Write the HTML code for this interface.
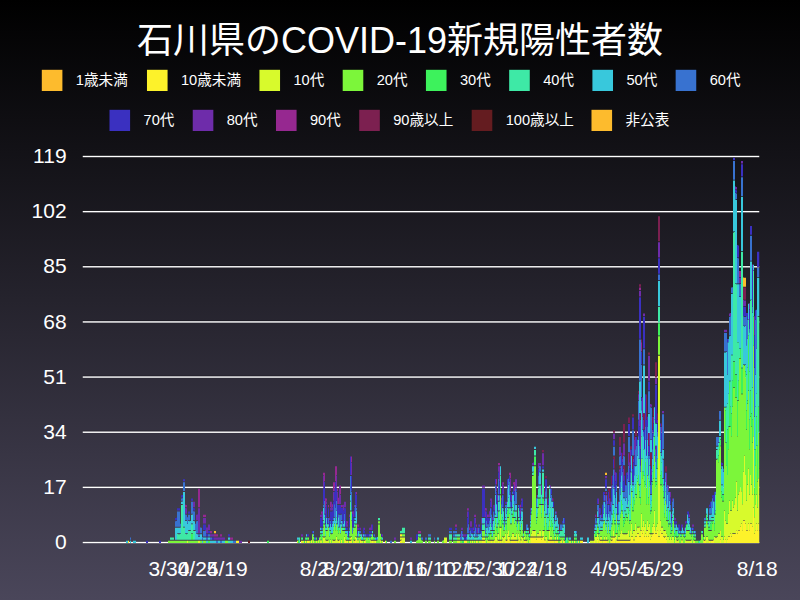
<!DOCTYPE html>
<html lang="ja"><head><meta charset="utf-8"><title>石川県のCOVID-19新規陽性者数</title>
<style>html,body{margin:0;padding:0;background:#4a465a}body{width:800px;height:600px;overflow:hidden;font-family:"Liberation Sans",sans-serif}svg{display:block}.h{font-family:"Liberation Sans","Noto Sans CJK JP",sans-serif;fill:#fff}</style></head><body>
<svg width="800" height="600" viewBox="0 0 800 600">
<defs><linearGradient id="bg" x1="0" y1="0" x2="0" y2="1"><stop offset="0" stop-color="#000"/><stop offset="1" stop-color="#4a465a"/></linearGradient></defs>
<rect width="800" height="600" fill="url(#bg)"/>
<g><text class="h" x="400" y="52.5" font-size="36" text-anchor="middle">石川県のCOVID-19新規陽性者数</text></g>
<rect x="41.80" y="69.8" width="20.6" height="21.2" fill="#fdbb2d"/>
<g><text class="h" x="75.8" y="84.9" font-size="14.62" text-anchor="start">1歳未満</text></g>
<rect x="146.97" y="69.8" width="20.6" height="21.2" fill="#fdf22a"/>
<g><text class="h" x="180.97" y="84.9" font-size="14.62" text-anchor="start">10歳未満</text></g>
<rect x="259.45" y="69.8" width="20.6" height="21.2" fill="#d8fa2c"/>
<g><text class="h" x="293.45" y="84.9" font-size="14.62" text-anchor="start">10代</text></g>
<rect x="342.69" y="69.8" width="20.6" height="21.2" fill="#7cf63a"/>
<g><text class="h" x="376.69" y="84.9" font-size="14.62" text-anchor="start">20代</text></g>
<rect x="425.93" y="69.8" width="20.6" height="21.2" fill="#3df25c"/>
<g><text class="h" x="459.93" y="84.9" font-size="14.62" text-anchor="start">30代</text></g>
<rect x="509.17" y="69.8" width="20.6" height="21.2" fill="#3ee9a6"/>
<g><text class="h" x="543.17" y="84.9" font-size="14.62" text-anchor="start">40代</text></g>
<rect x="592.41" y="69.8" width="20.6" height="21.2" fill="#38c8dc"/>
<g><text class="h" x="626.41" y="84.9" font-size="14.62" text-anchor="start">50代</text></g>
<rect x="675.65" y="69.8" width="20.6" height="21.2" fill="#3872d0"/>
<g><text class="h" x="709.65" y="84.9" font-size="14.62" text-anchor="start">60代</text></g>
<rect x="109.50" y="109.8" width="20.6" height="21.2" fill="#3a30c0"/>
<g><text class="h" x="143.5" y="124.9" font-size="14.62" text-anchor="start">70代</text></g>
<rect x="192.74" y="109.8" width="20.6" height="21.2" fill="#6e2caa"/>
<g><text class="h" x="226.74" y="124.9" font-size="14.62" text-anchor="start">80代</text></g>
<rect x="275.98" y="109.8" width="20.6" height="21.2" fill="#962890"/>
<g><text class="h" x="309.98" y="124.9" font-size="14.62" text-anchor="start">90代</text></g>
<rect x="359.22" y="109.8" width="20.6" height="21.2" fill="#7c2050"/>
<g><text class="h" x="393.22" y="124.9" font-size="14.62" text-anchor="start">90歳以上</text></g>
<rect x="471.70" y="109.8" width="20.6" height="21.2" fill="#641c20"/>
<g><text class="h" x="505.7" y="124.9" font-size="14.62" text-anchor="start">100歳以上</text></g>
<rect x="591.49" y="109.8" width="20.6" height="21.2" fill="#fdbb2d"/>
<g><text class="h" x="625.49" y="124.9" font-size="14.62" text-anchor="start">非公表</text></g>
<rect x="82.75" y="540.90" width="676.5" height="1" fill="#000" fill-opacity=".3"/>
<rect x="82.75" y="541.80" width="676.5" height="1.4" fill="#fff"/>
<g><text class="h" x="66.6" y="549.2" font-size="21" text-anchor="end">0</text></g>
<rect x="82.75" y="485.76" width="676.5" height="1" fill="#000" fill-opacity=".3"/>
<rect x="82.75" y="486.66" width="676.5" height="1.4" fill="#fff"/>
<g><text class="h" x="66.6" y="494.06" font-size="21" text-anchor="end">17</text></g>
<rect x="82.75" y="430.61" width="676.5" height="1" fill="#000" fill-opacity=".3"/>
<rect x="82.75" y="431.51" width="676.5" height="1.4" fill="#fff"/>
<g><text class="h" x="66.6" y="438.91" font-size="21" text-anchor="end">34</text></g>
<rect x="82.75" y="375.47" width="676.5" height="1" fill="#000" fill-opacity=".3"/>
<rect x="82.75" y="376.37" width="676.5" height="1.4" fill="#fff"/>
<g><text class="h" x="66.6" y="383.77" font-size="21" text-anchor="end">51</text></g>
<rect x="82.75" y="320.33" width="676.5" height="1" fill="#000" fill-opacity=".3"/>
<rect x="82.75" y="321.23" width="676.5" height="1.4" fill="#fff"/>
<g><text class="h" x="66.6" y="328.63" font-size="21" text-anchor="end">68</text></g>
<rect x="82.75" y="265.19" width="676.5" height="1" fill="#000" fill-opacity=".3"/>
<rect x="82.75" y="266.09" width="676.5" height="1.4" fill="#fff"/>
<g><text class="h" x="66.6" y="273.49" font-size="21" text-anchor="end">85</text></g>
<rect x="82.75" y="210.04" width="676.5" height="1" fill="#000" fill-opacity=".3"/>
<rect x="82.75" y="210.94" width="676.5" height="1.4" fill="#fff"/>
<g><text class="h" x="66.6" y="218.34" font-size="21" text-anchor="end">102</text></g>
<rect x="82.75" y="154.90" width="676.5" height="1" fill="#000" fill-opacity=".3"/>
<rect x="82.75" y="155.80" width="676.5" height="1.4" fill="#fff"/>
<g><text class="h" x="66.6" y="163.2" font-size="21" text-anchor="end">119</text></g>
<g><text class="h" x="169.03" y="576.3" font-size="21" text-anchor="middle">3/30</text></g>
<g><text class="h" x="198.09" y="576.3" font-size="21" text-anchor="middle">4/24</text></g>
<g><text class="h" x="227.15" y="576.3" font-size="21" text-anchor="middle">5/19</text></g>
<g><text class="h" x="314.32" y="576.3" font-size="21" text-anchor="middle">8/2</text></g>
<g><text class="h" x="343.38" y="576.3" font-size="21" text-anchor="middle">8/27</text></g>
<g><text class="h" x="372.44" y="576.3" font-size="21" text-anchor="middle">9/21</text></g>
<g><text class="h" x="401.49" y="576.3" font-size="21" text-anchor="middle">10/16</text></g>
<g><text class="h" x="430.55" y="576.3" font-size="21" text-anchor="middle">11/10</text></g>
<g><text class="h" x="459.61" y="576.3" font-size="21" text-anchor="middle">12/5</text></g>
<g><text class="h" x="488.67" y="576.3" font-size="21" text-anchor="middle">12/30</text></g>
<g><text class="h" x="517.73" y="576.3" font-size="21" text-anchor="middle">1/24</text></g>
<g><text class="h" x="546.78" y="576.3" font-size="21" text-anchor="middle">2/18</text></g>
<g><text class="h" x="604.9" y="576.3" font-size="21" text-anchor="middle">4/9</text></g>
<g><text class="h" x="633.96" y="576.3" font-size="21" text-anchor="middle">5/4</text></g>
<g><text class="h" x="663.01" y="576.3" font-size="21" text-anchor="middle">5/29</text></g>
<g><text class="h" x="757.16" y="576.3" font-size="21" text-anchor="middle">8/18</text></g>
<defs><clipPath id="cp"><rect x="82" y="150" width="677.25" height="393"/></clipPath></defs><g clip-path="url(#cp)">
<path fill="#fdf22a" d="M128 543.00v-2.24h1v2.24zM236 543.00v-2.24h1v2.24zM237 543.00v-2.24h1v2.24zM238 543.00v-2.24h1v2.24zM301 543.00v-2.24h1v2.24zM305 543.00v-2.24h1v2.24zM307 543.00v-2.24h1v2.24zM308 543.00v-2.24h1v2.24zM311 543.00v-2.64h1v2.64zM339 543.00v-2.64h1v2.64zM341 543.00v-2.99h1v2.99zM345 543.00v-2.64h1v2.64zM347 543.00v-2.24h1v2.24zM349 543.00v-2.24h1v2.24zM350 543.00v-2.24h1v2.24zM351 543.00v-2.64h1v2.64zM355 543.00v-2.64h1v2.64zM360 543.00v-2.64h1v2.64zM364 543.00v-2.24h1v2.24zM372 543.00v-2.24h1v2.24zM375 543.00v-2.24h1v2.24zM385 543.00v-2.24h1v2.24zM400 543.00v-2.24h1v2.24zM400 536.51v-2.24h1v2.24zM401 543.00v-2.64h1v2.64zM401 536.51v-2.24h1v2.24zM464 543.00v-2.24h1v2.24zM465 543.00v-2.24h1v2.24zM466 543.00v-2.24h1v2.24zM472 543.00v-2.24h1v2.24zM476 543.00v-2.24h1v2.24zM482 543.00v-2.24h1v2.24zM483 543.00v-2.24h1v2.24zM484 543.00v-2.24h1v2.24zM491 543.00v-2.24h1v2.24zM494 543.00v-2.64h1v2.64zM498 543.00v-2.24h1v2.24zM500 543.00v-2.24h1v2.24zM502 543.00v-2.64h1v2.64zM505 543.00v-2.64h1v2.64zM506 543.00v-2.24h1v2.24zM507 543.00v-2.64h1v2.64zM508 543.00v-5.89h1v5.89zM509 543.00v-2.64h1v2.64zM511 543.00v-2.24h1v2.24zM512 543.00v-2.24h1v2.24zM513 543.00v-2.24h1v2.24zM514 543.00v-2.24h1v2.24zM515 543.00v-2.24h1v2.24zM516 543.00v-2.24h1v2.24zM518 543.00v-2.64h1v2.64zM521 543.00v-2.64h1v2.64zM524 543.00v-2.24h1v2.24zM525 543.00v-2.24h1v2.24zM531 543.00v-5.49h1v5.49zM532 543.00v-5.49h1v5.49zM533 543.00v-5.49h1v5.49zM534 543.00v-5.49h1v5.49zM535 543.00v-5.49h1v5.49zM536 543.00v-2.99h1v2.99zM537 543.00v-5.49h1v5.49zM538 543.00v-5.49h1v5.49zM539 543.00v-5.49h1v5.49zM540 543.00v-5.49h1v5.49zM541 543.00v-2.99h1v2.99zM542 543.00v-5.49h1v5.49zM543 543.00v-5.89h1v5.89zM544 543.00v-2.64h1v2.64zM545 543.00v-2.64h1v2.64zM548 543.00v-2.24h1v2.24zM549 543.00v-2.24h1v2.24zM550 543.00v-2.24h1v2.24zM551 543.00v-2.24h1v2.24zM552 543.00v-2.24h1v2.24zM553 543.00v-2.24h1v2.24zM555 543.00v-2.24h1v2.24zM556 543.00v-2.24h1v2.24zM557 543.00v-2.24h1v2.24zM561 543.00v-2.64h1v2.64zM563 543.00v-2.64h1v2.64zM574 543.00v-2.24h1v2.24zM578 543.00v-2.24h1v2.24zM580 543.00v-2.24h1v2.24zM581 543.00v-2.24h1v2.24zM582 543.00v-2.24h1v2.24zM594 543.00v-2.64h1v2.64zM597 543.00v-2.99h1v2.99zM599 543.00v-2.64h1v2.64zM600 543.00v-2.24h1v2.24zM601 543.00v-2.24h1v2.24zM603 543.00v-2.24h1v2.24zM604 543.00v-2.24h1v2.24zM605 543.00v-2.24h1v2.24zM606 543.00v-2.24h1v2.24zM611 543.00v-2.24h1v2.24zM612 543.00v-2.64h1v2.64zM613 543.00v-5.49h1v5.49zM614 543.00v-5.49h1v5.49zM616 543.00v-2.64h1v2.64zM617 543.00v-2.24h1v2.24zM618 543.00v-2.24h1v2.24zM619 543.00v-2.24h1v2.24zM620 543.00v-2.24h1v2.24zM621 543.00v-2.24h1v2.24zM622 543.00v-2.24h1v2.24zM623 543.00v-2.24h1v2.24zM624 543.00v-2.24h1v2.24zM625 543.00v-2.24h1v2.24zM626 543.00v-2.24h1v2.24zM627 543.00v-2.24h1v2.24zM628 543.00v-2.24h1v2.24zM629 543.00v-2.24h1v2.24zM630 543.00v-2.64h1v2.64zM631 543.00v-5.89h1v5.89zM632 543.00v-5.89h1v5.89zM633 543.00v-2.64h1v2.64zM634 543.00v-2.64h1v2.64zM635 543.00v-5.89h1v5.89zM636 543.00v-5.89h1v5.89zM637 543.00v-9.13h1v9.13zM638 543.00v-9.33h1v9.33zM639 543.00v-6.09h1v6.09zM640 543.00v-6.09h1v6.09zM641 543.00v-12.57h1v12.57zM642 543.00v-9.53h1v9.53zM643 543.00v-12.77h1v12.77zM644 543.00v-6.29h1v6.29zM645 543.00v-9.53h1v9.53zM646 543.00v-6.29h1v6.29zM647 543.00v-12.37h1v12.37zM648 543.00v-6.29h1v6.29zM649 543.00v-9.33h1v9.33zM650 543.00v-2.99h1v2.99zM651 543.00v-6.24h1v6.24zM652 543.00v-8.73h1v8.73zM653 543.00v-9.13h1v9.13zM654 543.00v-15.97h1v15.97zM655 543.00v-9.33h1v9.33zM656 543.00v-9.33h1v9.33zM657 543.00v-12.72h1v12.72zM658 543.00v-6.09h1v6.09zM659 543.00v-6.09h1v6.09zM660 543.00v-12.72h1v12.72zM661 543.00v-9.13h1v9.13zM662 543.00v-9.13h1v9.13zM663 543.00v-5.89h1v5.89zM664 543.00v-5.49h1v5.49zM665 543.00v-5.89h1v5.89zM666 543.00v-2.99h1v2.99zM704 543.00v-2.24h1v2.24zM705 543.00v-2.64h1v2.64zM709 543.00v-2.24h1v2.24zM711 543.00v-2.24h1v2.24zM712 543.00v-2.24h1v2.24zM713 543.00v-2.64h1v2.64zM720 543.00v-2.99h1v2.99zM724 543.00v-6.29h1v6.29zM725 543.00v-3.04h1v3.04zM727 543.00v-3.04h1v3.04zM728 543.00v-6.09h1v6.09zM729 543.00v-6.09h1v6.09zM730 543.00v-9.53h1v9.53zM731 543.00v-6.29h1v6.29zM732 543.00v-9.33h1v9.33zM733 543.00v-8.93h1v8.93zM734 543.00v-8.93h1v8.93zM735 543.00v-9.33h1v9.33zM736 543.00v-12.77h1v12.77zM737 543.00v-9.53h1v9.53zM738 543.00v-12.57h1v12.57zM739 543.00v-12.57h1v12.57zM740 543.00v-16.02h1v16.02zM741 543.00v-19.26h1v19.26zM742 543.00v-12.77h1v12.77zM743 543.00v-22.31h1v22.31zM744 543.00v-22.31h1v22.31zM745 543.00v-19.26h1v19.26zM746 543.00v-12.57h1v12.57zM747 543.00v-12.57h1v12.57zM748 543.00v-19.26h1v19.26zM749 543.00v-12.77h1v12.77zM750 543.00v-19.06h1v19.06zM751 543.00v-19.06h1v19.06zM752 543.00v-16.02h1v16.02zM753 543.00v-35.48h1v35.48zM754 543.00v-9.53h1v9.53zM755 543.00v-12.77h1v12.77zM756 543.00v-19.26h1v19.26zM757 543.00v-12.77h1v12.77zM758 543.00v-19.26h1v19.26zM759 543.00v-12.57h1v12.57z"/>
<path fill="#d8fa2c" d="M187 543.00v-2.24h1v2.24zM198 543.00v-2.24h1v2.24zM199 543.00v-2.24h1v2.24zM297 543.00v-2.24h1v2.24zM302 543.00v-2.24h1v2.24zM303 543.00v-2.24h1v2.24zM309 543.00v-2.24h1v2.24zM313 543.00v-2.64h1v2.64zM316 543.00v-2.24h1v2.24zM318 543.00v-2.64h1v2.64zM320 543.00v-2.64h1v2.64zM321 543.00v-2.64h1v2.64zM323 543.00v-5.49h1v5.49zM324 543.00v-5.49h1v5.49zM325 543.00v-2.64h1v2.64zM326 543.00v-2.24h1v2.24zM327 543.00v-2.24h1v2.24zM328 543.00v-2.64h1v2.64zM330 543.00v-2.99h1v2.99zM332 543.00v-2.64h1v2.64zM333 543.00v-2.24h1v2.24zM334 543.00v-2.24h1v2.24zM335 543.00v-2.64h1v2.64zM336 543.00v-6.24h1v6.24zM337 543.00v-2.64h1v2.64zM338 543.00v-2.24h1v2.24zM344 543.00v-6.24h1v6.24zM346 543.00v-2.24h1v2.24zM350 539.76v-2.24h1v2.24zM351 539.76v-2.64h1v2.64zM353 543.00v-2.64h1v2.64zM354 543.00v-2.24h1v2.24zM355 539.76v-2.64h1v2.64zM356 543.00v-5.49h1v5.49zM357 543.00v-2.64h1v2.64zM358 543.00v-2.64h1v2.64zM361 543.00v-2.24h1v2.24zM362 543.00v-2.24h1v2.24zM365 543.00v-2.64h1v2.64zM370 543.00v-2.64h1v2.64zM371 543.00v-2.24h1v2.24zM373 543.00v-2.24h1v2.24zM374 543.00v-2.24h1v2.24zM380 543.00v-2.64h1v2.64zM382 543.00v-2.24h1v2.24zM400 539.76v-2.24h1v2.24zM401 539.76v-2.24h1v2.24zM402 543.00v-5.49h1v5.49zM403 543.00v-5.49h1v5.49zM404 543.00v-5.49h1v5.49zM444 543.00v-5.49h1v5.49zM445 543.00v-5.49h1v5.49zM446 543.00v-5.49h1v5.49zM457 543.00v-2.24h1v2.24zM458 543.00v-2.24h1v2.24zM459 543.00v-2.24h1v2.24zM470 543.00v-2.24h1v2.24zM474 543.00v-2.24h1v2.24zM477 543.00v-2.24h1v2.24zM479 543.00v-2.24h1v2.24zM480 543.00v-2.24h1v2.24zM481 543.00v-2.24h1v2.24zM482 539.76v-2.24h1v2.24zM483 539.76v-2.24h1v2.24zM484 539.76v-2.24h1v2.24zM485 543.00v-2.64h1v2.64zM487 543.00v-2.64h1v2.64zM488 543.00v-2.24h1v2.24zM489 543.00v-2.24h1v2.24zM490 543.00v-2.24h1v2.24zM492 543.00v-2.24h1v2.24zM493 543.00v-2.24h1v2.24zM495 543.00v-5.89h1v5.89zM496 543.00v-5.89h1v5.89zM497 543.00v-2.64h1v2.64zM498 539.76v-5.89h1v5.89zM499 543.00v-2.24h1v2.24zM500 539.76v-11.97h1v11.97zM501 543.00v-2.24h1v2.24zM502 539.76v-2.64h1v2.64zM503 543.00v-5.49h1v5.49zM504 543.00v-5.89h1v5.89zM505 539.76v-6.24h1v6.24zM507 539.76v-6.24h1v6.24zM508 536.51v-6.24h1v6.24zM509 539.76v-2.64h1v2.64zM510 543.00v-2.24h1v2.24zM511 539.76v-2.99h1v2.99zM512 539.76v-5.89h1v5.89zM513 539.76v-5.89h1v5.89zM514 539.76v-2.64h1v2.64zM515 539.76v-2.64h1v2.64zM516 539.76v-6.24h1v6.24zM517 543.00v-2.24h1v2.24zM518 539.76v-6.24h1v6.24zM519 543.00v-6.24h1v6.24zM520 543.00v-2.64h1v2.64zM521 539.76v-2.64h1v2.64zM522 543.00v-5.49h1v5.49zM523 543.00v-2.64h1v2.64zM524 539.76v-2.64h1v2.64zM526 543.00v-2.24h1v2.24zM527 543.00v-2.64h1v2.64zM529 543.00v-2.99h1v2.99zM530 543.00v-5.49h1v5.49zM531 536.51v-2.99h1v2.99zM532 536.51v-5.89h1v5.89zM533 536.51v-5.49h1v5.49zM534 536.51v-5.49h1v5.49zM535 536.51v-5.89h1v5.89zM536 539.76v-2.24h1v2.24zM537 536.51v-2.64h1v2.64zM538 536.51v-2.64h1v2.64zM539 536.51v-5.89h1v5.89zM540 536.51v-5.89h1v5.89zM541 539.76v-2.24h1v2.24zM542 536.51v-5.89h1v5.89zM543 536.51v-5.49h1v5.49zM545 539.76v-2.64h1v2.64zM546 543.00v-5.89h1v5.89zM547 543.00v-2.64h1v2.64zM549 539.76v-9.13h1v9.13zM550 539.76v-2.64h1v2.64zM551 539.76v-2.64h1v2.64zM554 543.00v-2.24h1v2.24zM555 539.76v-2.64h1v2.64zM557 539.76v-2.99h1v2.99zM560 543.00v-2.24h1v2.24zM564 543.00v-2.24h1v2.24zM569 543.00v-2.24h1v2.24zM570 543.00v-2.24h1v2.24zM572 543.00v-2.24h1v2.24zM590 543.00v-2.24h1v2.24zM591 543.00v-2.24h1v2.24zM592 543.00v-2.24h1v2.24zM593 543.00v-2.24h1v2.24zM595 543.00v-5.89h1v5.89zM596 543.00v-5.89h1v5.89zM597 539.76v-5.89h1v5.89zM598 543.00v-6.24h1v6.24zM600 539.76v-2.64h1v2.64zM601 539.76v-2.64h1v2.64zM602 543.00v-2.24h1v2.24zM604 539.76v-2.99h1v2.99zM606 539.76v-2.99h1v2.99zM607 543.00v-2.24h1v2.24zM608 543.00v-2.64h1v2.64zM610 543.00v-2.64h1v2.64zM611 539.76v-2.24h1v2.24zM612 539.76v-2.24h1v2.24zM613 536.51v-6.24h1v6.24zM615 543.00v-5.89h1v5.89zM616 539.76v-5.49h1v5.49zM618 539.76v-2.64h1v2.64zM619 539.76v-2.64h1v2.64zM620 539.76v-6.24h1v6.24zM621 539.76v-9.48h1v9.48zM622 539.76v-5.89h1v5.89zM623 539.76v-5.49h1v5.49zM624 539.76v-5.49h1v5.49zM625 539.76v-5.49h1v5.49zM626 539.76v-5.49h1v5.49zM627 539.76v-5.89h1v5.89zM628 539.76v-9.48h1v9.48zM629 539.76v-2.99h1v2.99zM630 539.76v-9.48h1v9.48zM631 536.51v-12.72h1v12.72zM632 536.51v-2.99h1v2.99zM633 539.76v-9.13h1v9.13zM634 539.76v-9.13h1v9.13zM635 536.51v-12.72h1v12.72zM636 536.51v-6.24h1v6.24zM637 533.27v-5.89h1v5.89zM638 533.27v-5.69h1v5.69zM639 536.51v-9.33h1v9.33zM640 536.51v-6.09h1v6.09zM641 530.03v-16.02h1v16.02zM642 533.27v-6.29h1v6.29zM643 530.03v-9.53h1v9.53zM644 536.51v-9.53h1v9.53zM645 533.27v-9.53h1v9.53zM646 536.51v-6.09h1v6.09zM647 530.03v-9.48h1v9.48zM648 536.51v-9.53h1v9.53zM649 533.27v-9.53h1v9.53zM650 539.76v-5.49h1v5.49zM651 536.51v-2.24h1v2.24zM652 533.27v-6.24h1v6.24zM653 533.27v-9.48h1v9.48zM654 526.78v-15.97h1v15.97zM655 533.27v-3.04h1v3.04zM656 533.27v-6.29h1v6.29zM657 530.03v-6.24h1v6.24zM658 536.51v-180.85h1v180.85zM659 536.51v-180.85h1v180.85zM660 530.03v-9.48h1v9.48zM661 533.27v-5.89h1v5.89zM662 533.27v-5.89h1v5.89zM663 536.51v-5.89h1v5.89zM664 536.51v-5.49h1v5.49zM665 536.51v-5.89h1v5.89zM666 539.76v-6.24h1v6.24zM667 543.00v-5.89h1v5.89zM668 543.00v-5.89h1v5.89zM669 543.00v-2.99h1v2.99zM670 543.00v-6.24h1v6.24zM671 543.00v-2.99h1v2.99zM672 543.00v-5.89h1v5.89zM673 543.00v-5.89h1v5.89zM675 543.00v-5.89h1v5.89zM676 543.00v-2.64h1v2.64zM677 543.00v-2.24h1v2.24zM678 543.00v-2.64h1v2.64zM681 543.00v-2.64h1v2.64zM682 543.00v-2.64h1v2.64zM685 543.00v-2.64h1v2.64zM686 543.00v-2.24h1v2.24zM687 543.00v-2.24h1v2.24zM688 543.00v-2.24h1v2.24zM689 543.00v-2.24h1v2.24zM690 543.00v-2.24h1v2.24zM691 543.00v-2.64h1v2.64zM693 543.00v-2.64h1v2.64zM694 543.00v-2.24h1v2.24zM703 543.00v-2.64h1v2.64zM704 539.76v-2.64h1v2.64zM706 543.00v-5.89h1v5.89zM707 543.00v-5.89h1v5.89zM708 543.00v-2.64h1v2.64zM710 543.00v-2.24h1v2.24zM714 543.00v-5.89h1v5.89zM715 543.00v-5.49h1v5.49zM716 543.00v-5.49h1v5.49zM717 543.00v-5.89h1v5.89zM718 543.00v-9.13h1v9.13zM719 543.00v-9.13h1v9.13zM720 539.76v-9.48h1v9.48zM721 543.00v-5.89h1v5.89zM722 543.00v-5.89h1v5.89zM723 543.00v-2.99h1v2.99zM724 536.51v-25.75h1v25.75zM725 539.76v-19.26h1v19.26zM726 543.00v-19.06h1v19.06zM727 539.76v-15.82h1v15.82zM728 536.51v-22.51h1v22.51zM729 536.51v-35.48h1v35.48zM730 533.27v-22.31h1v22.31zM731 536.51v-25.55h1v25.55zM732 533.27v-32.24h1v32.24zM733 533.27v-25.75h1v25.75zM734 533.27v-28.99h1v28.99zM735 533.27v-35.48h1v35.48zM736 530.03v-48.46h1v48.46zM737 533.27v-22.51h1v22.51zM738 530.03v-35.48h1v35.48zM739 530.03v-38.72h1v38.72zM740 526.78v-38.72h1v38.72zM741 523.54v-32.24h1v32.24zM742 530.03v-25.75h1v25.75zM743 520.29v-48.46h1v48.46zM744 520.29v-64.67h1v64.67zM745 523.54v-48.46h1v48.46zM746 530.03v-28.99h1v28.99zM747 530.03v-45.21h1v45.21zM748 523.54v-54.94h1v54.94zM749 530.03v-35.48h1v35.48zM750 523.54v-48.46h1v48.46zM751 523.54v-38.72h1v38.72zM752 526.78v-32.24h1v32.24zM753 507.32v-71.16h1v71.16zM754 533.27v-16.02h1v16.02zM755 530.03v-25.75h1v25.75zM756 523.54v-28.99h1v28.99zM757 530.03v-22.51h1v22.51zM758 523.54v-45.21h1v45.21zM759 530.03v-35.28h1v35.28z"/>
<path fill="#7cf63a" d="M168 543.00v-2.24h1v2.24zM169 543.00v-2.24h1v2.24zM170 543.00v-2.24h1v2.24zM171 543.00v-2.24h1v2.24zM172 543.00v-2.24h1v2.24zM173 543.00v-2.24h1v2.24zM174 543.00v-2.24h1v2.24zM175 543.00v-2.24h1v2.24zM176 543.00v-2.24h1v2.24zM177 543.00v-2.24h1v2.24zM178 543.00v-2.24h1v2.24zM179 543.00v-2.24h1v2.24zM180 543.00v-2.24h1v2.24zM181 543.00v-2.24h1v2.24zM182 543.00v-2.24h1v2.24zM183 543.00v-2.24h1v2.24zM184 543.00v-2.24h1v2.24zM185 543.00v-2.24h1v2.24zM186 543.00v-2.24h1v2.24zM188 543.00v-2.24h1v2.24zM189 543.00v-2.24h1v2.24zM190 543.00v-2.24h1v2.24zM191 543.00v-2.24h1v2.24zM192 543.00v-2.24h1v2.24zM193 543.00v-2.24h1v2.24zM194 543.00v-2.24h1v2.24zM195 543.00v-2.24h1v2.24zM196 543.00v-2.24h1v2.24zM197 543.00v-2.24h1v2.24zM200 543.00v-2.24h1v2.24zM201 543.00v-2.24h1v2.24zM203 543.00v-2.24h1v2.24zM204 543.00v-2.24h1v2.24zM205 543.00v-2.24h1v2.24zM225 543.00v-2.24h1v2.24zM226 543.00v-2.24h1v2.24zM227 543.00v-2.24h1v2.24zM306 543.00v-2.24h1v2.24zM308 539.76v-2.24h1v2.24zM310 543.00v-2.24h1v2.24zM312 543.00v-8.73h1v8.73zM313 539.76v-2.64h1v2.64zM314 543.00v-2.24h1v2.24zM315 543.00v-2.24h1v2.24zM317 543.00v-2.24h1v2.24zM319 543.00v-5.49h1v5.49zM320 539.76v-2.64h1v2.64zM322 543.00v-5.89h1v5.89zM323 536.51v-9.13h1v9.13zM324 536.51v-11.97h1v11.97zM325 539.76v-2.64h1v2.64zM326 539.76v-8.73h1v8.73zM327 539.76v-9.13h1v9.13zM328 539.76v-12.37h1v12.37zM329 543.00v-6.24h1v6.24zM330 539.76v-5.89h1v5.89zM331 543.00v-8.73h1v8.73zM332 539.76v-5.89h1v5.89zM333 539.76v-9.48h1v9.48zM334 539.76v-15.97h1v15.97zM335 539.76v-9.48h1v9.48zM336 536.51v-12.37h1v12.37zM337 539.76v-9.48h1v9.48zM338 539.76v-6.24h1v6.24zM339 539.76v-9.48h1v9.48zM340 543.00v-9.48h1v9.48zM341 539.76v-12.37h1v12.37zM342 543.00v-12.37h1v12.37zM343 543.00v-11.97h1v11.97zM344 536.51v-5.49h1v5.49zM345 539.76v-5.89h1v5.89zM346 539.76v-5.89h1v5.89zM348 543.00v-2.24h1v2.24zM349 539.76v-2.24h1v2.24zM350 536.51v-24.95h1v24.95zM351 536.51v-15.97h1v15.97zM352 543.00v-9.48h1v9.48zM353 539.76v-9.48h1v9.48zM354 539.76v-11.97h1v11.97zM355 536.51v-9.13h1v9.13zM356 536.51v-11.97h1v11.97zM358 539.76v-2.24h1v2.24zM359 543.00v-5.49h1v5.49zM360 539.76v-2.64h1v2.64zM363 543.00v-2.24h1v2.24zM364 539.76v-2.24h1v2.24zM366 543.00v-5.49h1v5.49zM367 543.00v-5.49h1v5.49zM368 543.00v-2.99h1v2.99zM369 543.00v-5.49h1v5.49zM371 539.76v-2.64h1v2.64zM372 539.76v-5.49h1v5.49zM376 543.00v-2.24h1v2.24zM377 543.00v-2.64h1v2.64zM378 543.00v-18.46h1v18.46zM378 523.54v-2.24h1v2.24zM379 543.00v-18.46h1v18.46zM379 523.54v-2.24h1v2.24zM380 539.76v-5.89h1v5.89zM381 543.00v-2.24h1v2.24zM394 543.00v-2.24h1v2.24zM395 543.00v-2.24h1v2.24zM402 536.51v-2.24h1v2.24zM403 536.51v-2.24h1v2.24zM404 536.51v-2.24h1v2.24zM416 543.00v-2.24h1v2.24zM417 543.00v-2.64h1v2.64zM418 543.00v-5.89h1v5.89zM419 543.00v-5.49h1v5.49zM420 543.00v-5.49h1v5.49zM421 543.00v-2.64h1v2.64zM422 543.00v-2.24h1v2.24zM425 543.00v-2.24h1v2.24zM426 543.00v-2.24h1v2.24zM428 543.00v-2.24h1v2.24zM429 543.00v-2.24h1v2.24zM430 543.00v-2.24h1v2.24zM434 543.00v-2.24h1v2.24zM437 543.00v-2.24h1v2.24zM438 543.00v-2.24h1v2.24zM442 543.00v-2.24h1v2.24zM443 543.00v-2.64h1v2.64zM449 543.00v-2.24h1v2.24zM450 543.00v-2.24h1v2.24zM451 543.00v-2.24h1v2.24zM453 543.00v-2.24h1v2.24zM454 543.00v-2.24h1v2.24zM455 543.00v-2.24h1v2.24zM456 543.00v-2.24h1v2.24zM457 539.76v-2.24h1v2.24zM458 539.76v-2.24h1v2.24zM459 539.76v-2.24h1v2.24zM460 543.00v-2.24h1v2.24zM461 543.00v-2.24h1v2.24zM467 543.00v-2.24h1v2.24zM468 543.00v-2.24h1v2.24zM471 543.00v-2.24h1v2.24zM473 543.00v-2.24h1v2.24zM475 543.00v-2.24h1v2.24zM478 543.00v-2.24h1v2.24zM482 536.51v-5.49h1v5.49zM483 536.51v-5.49h1v5.49zM484 536.51v-5.89h1v5.89zM486 543.00v-5.49h1v5.49zM488 539.76v-2.64h1v2.64zM490 539.76v-5.49h1v5.49zM491 539.76v-2.64h1v2.64zM492 539.76v-2.64h1v2.64zM493 539.76v-5.89h1v5.89zM494 539.76v-5.89h1v5.89zM495 536.51v-12.72h1v12.72zM496 536.51v-6.24h1v6.24zM497 539.76v-5.89h1v5.89zM498 533.27v-9.13h1v9.13zM499 539.76v-12.37h1v12.37zM500 526.78v-31.44h1v31.44zM501 539.76v-12.37h1v12.37zM502 536.51v-12.37h1v12.37zM503 536.51v-5.89h1v5.89zM504 536.51v-5.89h1v5.89zM505 533.27v-9.13h1v9.13zM506 539.76v-9.48h1v9.48zM507 533.27v-15.62h1v15.62zM508 530.03v-12.37h1v12.37zM509 536.51v-22.46h1v22.46zM510 539.76v-15.62h1v15.62zM511 536.51v-12.37h1v12.37zM512 533.27v-15.62h1v15.62zM513 533.27v-15.22h1v15.22zM514 536.51v-12.72h1v12.72zM515 536.51v-15.62h1v15.62zM516 533.27v-6.24h1v6.24zM517 539.76v-9.48h1v9.48zM518 533.27v-11.97h1v11.97zM519 536.51v-5.89h1v5.89zM520 539.76v-6.24h1v6.24zM521 536.51v-12.72h1v12.72zM522 536.51v-5.89h1v5.89zM523 539.76v-2.24h1v2.24zM524 536.51v-5.49h1v5.49zM525 539.76v-5.89h1v5.89zM526 539.76v-2.99h1v2.99zM527 539.76v-5.49h1v5.49zM528 543.00v-5.89h1v5.89zM530 536.51v-9.13h1v9.13zM531 533.27v-18.86h1v18.86zM532 530.03v-54.14h1v54.14zM533 530.03v-54.54h1v54.54zM534 530.03v-63.87h1v63.87zM535 530.03v-63.87h1v63.87zM536 536.51v-12.72h1v12.72zM537 533.27v-15.62h1v15.62zM538 533.27v-25.35h1v25.35zM539 530.03v-25.35h1v25.35zM540 530.03v-24.95h1v24.95zM541 536.51v-19.21h1v19.21zM542 530.03v-24.95h1v24.95zM543 530.03v-25.35h1v25.35zM544 539.76v-9.13h1v9.13zM545 536.51v-18.86h1v18.86zM546 536.51v-5.89h1v5.89zM547 539.76v-8.73h1v8.73zM548 539.76v-8.73h1v8.73zM549 530.03v-9.48h1v9.48zM550 536.51v-9.48h1v9.48zM551 536.51v-6.24h1v6.24zM552 539.76v-12.72h1v12.72zM553 539.76v-6.24h1v6.24zM554 539.76v-2.64h1v2.64zM555 536.51v-2.64h1v2.64zM557 536.51v-2.24h1v2.24zM558 543.00v-2.24h1v2.24zM559 543.00v-2.24h1v2.24zM560 539.76v-2.24h1v2.24zM561 539.76v-2.24h1v2.24zM562 543.00v-5.49h1v5.49zM563 539.76v-2.24h1v2.24zM568 543.00v-2.64h1v2.64zM574 539.76v-2.24h1v2.24zM575 543.00v-2.24h1v2.24zM576 543.00v-2.24h1v2.24zM594 539.76v-5.89h1v5.89zM597 533.27v-5.89h1v5.89zM598 536.51v-2.24h1v2.24zM599 539.76v-5.89h1v5.89zM600 536.51v-5.49h1v5.49zM601 536.51v-5.49h1v5.49zM602 539.76v-9.13h1v9.13zM603 539.76v-15.97h1v15.97zM604 536.51v-15.62h1v15.62zM605 539.76v-9.48h1v9.48zM606 536.51v-9.48h1v9.48zM607 539.76v-6.24h1v6.24zM608 539.76v-12.72h1v12.72zM609 543.00v-9.48h1v9.48zM610 539.76v-2.64h1v2.64zM611 536.51v-9.48h1v9.48zM612 536.51v-12.37h1v12.37zM613 530.03v-12.72h1v12.72zM614 536.51v-12.37h1v12.37zM615 536.51v-2.64h1v2.64zM616 533.27v-18.86h1v18.86zM617 539.76v-5.89h1v5.89zM618 536.51v-9.48h1v9.48zM619 536.51v-6.24h1v6.24zM620 533.27v-15.97h1v15.97zM621 530.03v-18.86h1v18.86zM622 533.27v-19.21h1v19.21zM623 533.27v-6.24h1v6.24zM624 533.27v-9.48h1v9.48zM625 533.27v-12.72h1v12.72zM626 533.27v-15.62h1v15.62zM627 533.27v-12.72h1v12.72zM628 530.03v-15.97h1v15.97zM629 536.51v-12.72h1v12.72zM630 530.03v-9.13h1v9.13zM631 523.54v-31.84h1v31.84zM632 533.27v-22.11h1v22.11zM633 530.03v-18.86h1v18.86zM634 530.03v-25.70h1v25.70zM635 523.54v-28.59h1v28.59zM636 530.03v-32.19h1v32.19zM637 526.78v-45.16h1v45.16zM638 526.78v-41.77h1v41.77zM639 526.78v-28.79h1v28.79zM640 530.03v-25.75h1v25.75zM641 513.81v-54.74h1v54.74zM642 526.78v-48.46h1v48.46zM643 520.29v-45.01h1v45.01zM644 526.78v-38.72h1v38.72zM645 523.54v-38.72h1v38.72zM646 530.03v-25.75h1v25.75zM647 520.29v-44.81h1v44.81zM648 526.78v-22.51h1v22.51zM649 523.54v-35.48h1v35.48zM650 533.27v-19.21h1v19.21zM651 533.27v-22.11h1v22.11zM652 526.78v-41.92h1v41.92zM653 523.54v-45.16h1v45.16zM654 510.56v-54.89h1v54.89zM655 530.03v-41.97h1v41.97zM656 526.78v-41.97h1v41.97zM657 523.54v-54.54h1v54.54zM658 354.87v-18.66h1v18.66zM659 354.87v-18.66h1v18.66zM660 520.29v-35.08h1v35.08zM661 526.78v-41.57h1v41.57zM662 526.78v-38.67h1v38.67zM663 530.03v-31.84h1v31.84zM664 530.03v-12.72h1v12.72zM665 530.03v-28.94h1v28.94zM666 533.27v-12.37h1v12.37zM667 536.51v-15.22h1v15.22zM668 536.51v-9.48h1v9.48zM669 539.76v-15.22h1v15.22zM670 536.51v-2.64h1v2.64zM671 539.76v-5.89h1v5.89zM672 536.51v-5.89h1v5.89zM673 536.51v-15.62h1v15.62zM674 543.00v-2.99h1v2.99zM676 539.76v-2.24h1v2.24zM677 539.76v-2.24h1v2.24zM678 539.76v-2.64h1v2.64zM679 543.00v-8.73h1v8.73zM680 543.00v-5.89h1v5.89zM681 539.76v-2.64h1v2.64zM682 539.76v-5.49h1v5.49zM683 543.00v-5.89h1v5.89zM684 543.00v-5.49h1v5.49zM685 539.76v-2.64h1v2.64zM686 539.76v-9.13h1v9.13zM687 539.76v-8.73h1v8.73zM688 539.76v-8.73h1v8.73zM689 539.76v-5.89h1v5.89zM690 539.76v-5.49h1v5.49zM691 539.76v-2.99h1v2.99zM692 543.00v-8.73h1v8.73zM694 539.76v-2.24h1v2.24zM695 543.00v-2.24h1v2.24zM696 543.00v-2.24h1v2.24zM697 543.00v-2.24h1v2.24zM700 543.00v-2.64h1v2.64zM701 543.00v-8.73h1v8.73zM702 543.00v-8.73h1v8.73zM704 536.51v-8.73h1v8.73zM705 539.76v-12.37h1v12.37zM706 536.51v-15.22h1v15.22zM707 536.51v-12.37h1v12.37zM708 539.76v-9.13h1v9.13zM709 539.76v-8.73h1v8.73zM710 539.76v-8.73h1v8.73zM711 539.76v-9.13h1v9.13zM712 539.76v-15.97h1v15.97zM713 539.76v-18.86h1v18.86zM714 536.51v-6.24h1v6.24zM715 536.51v-22.11h1v22.11zM716 536.51v-76.85h1v76.85zM717 536.51v-77.25h1v77.25zM718 533.27v-71.11h1v71.11zM719 533.27v-84.09h1v84.09zM720 530.03v-83.74h1v83.74zM721 536.51v-38.67h1v38.67zM722 536.51v-35.08h1v35.08zM723 539.76v-38.32h1v38.32zM724 510.56v-103.00h1v103.00zM725 520.29v-77.45h1v77.45zM726 523.54v-58.19h1v58.19zM727 523.54v-48.46h1v48.46zM728 513.81v-64.67h1v64.67zM729 500.83v-73.81h1v73.81zM730 510.56v-83.94h1v83.94zM731 510.56v-74.41h1v74.41zM732 500.83v-93.87h1v93.87zM733 507.32v-119.62h1v119.62zM734 504.08v-116.37h1v116.37zM735 497.59v-100.15h1v100.15zM736 481.37v-83.94h1v83.94zM737 510.56v-74.41h1v74.41zM738 494.34v-93.67h1v93.67zM739 491.10v-132.59h1v132.59zM740 487.86v-129.35h1v129.35zM741 491.10v-96.91h1v96.91zM742 504.08v-109.89h1v109.89zM743 471.64v-106.64h1v106.64zM744 455.42v-90.02h1v90.02zM745 474.88v-97.11h1v97.11zM746 500.83v-71.16h1v71.16zM747 484.61v-80.89h1v80.89zM748 468.39v-77.65h1v77.65zM749 494.34v-45.21h1v45.21zM750 474.88v-58.19h1v58.19zM751 484.61v-58.19h1v58.19zM752 494.34v-51.70h1v51.70zM753 435.96v-90.62h1v90.62zM754 517.05v-22.51h1v22.51zM755 504.08v-38.72h1v38.72zM756 494.34v-48.26h1v48.26zM757 507.32v-25.75h1v25.75zM758 478.13v-45.01h1v45.01zM759 494.34v-25.55h1v25.55z"/>
<path fill="#3df25c" d="M191 539.76v-5.89h1v5.89zM192 539.76v-5.89h1v5.89zM208 543.00v-2.24h1v2.24zM209 543.00v-2.24h1v2.24zM267 543.00v-2.24h1v2.24zM268 543.00v-2.24h1v2.24zM298 543.00v-2.64h1v2.64zM301 539.76v-2.24h1v2.24zM304 543.00v-2.24h1v2.24zM305 539.76v-2.24h1v2.24zM307 539.76v-2.24h1v2.24zM316 539.76v-2.24h1v2.24zM320 536.51v-2.24h1v2.24zM321 539.76v-5.49h1v5.49zM323 526.78v-2.64h1v2.64zM330 533.27v-2.64h1v2.64zM335 530.03v-2.99h1v2.99zM338 533.27v-5.89h1v5.89zM344 530.03v-2.24h1v2.24zM349 536.51v-2.99h1v2.99zM355 526.78v-2.24h1v2.24zM359 536.51v-2.64h1v2.64zM363 539.76v-2.24h1v2.24zM370 539.76v-2.24h1v2.24zM373 539.76v-2.64h1v2.64zM374 539.76v-2.24h1v2.24zM381 539.76v-2.64h1v2.64zM386 543.00v-2.24h1v2.24zM462 543.00v-2.24h1v2.24zM463 543.00v-2.24h1v2.24zM469 543.00v-2.24h1v2.24zM485 539.76v-2.24h1v2.24zM486 536.51v-2.64h1v2.64zM487 539.76v-2.24h1v2.24zM488 536.51v-2.64h1v2.64zM489 539.76v-5.49h1v5.49zM490 533.27v-2.64h1v2.64zM491 536.51v-2.64h1v2.64zM493 533.27v-2.24h1v2.24zM494 533.27v-2.64h1v2.64zM495 523.54v-5.49h1v5.49zM496 530.03v-2.64h1v2.64zM497 533.27v-5.89h1v5.89zM498 523.54v-11.97h1v11.97zM499 526.78v-6.24h1v6.24zM500 494.34v-5.89h1v5.89zM501 526.78v-6.24h1v6.24zM502 523.54v-6.24h1v6.24zM503 530.03v-5.89h1v5.89zM505 523.54v-2.24h1v2.24zM506 530.03v-5.89h1v5.89zM507 517.05v-6.24h1v6.24zM508 517.05v-8.73h1v8.73zM512 517.05v-2.64h1v2.64zM513 517.05v-5.89h1v5.89zM515 520.29v-2.64h1v2.64zM516 526.78v-5.49h1v5.49zM518 520.29v-2.24h1v2.24zM519 530.03v-6.24h1v6.24zM520 533.27v-2.64h1v2.64zM525 533.27v-2.24h1v2.24zM526 536.51v-2.24h1v2.24zM527 533.27v-2.24h1v2.24zM528 536.51v-2.24h1v2.24zM529 539.76v-2.24h1v2.24zM531 513.81v-2.64h1v2.64zM534 465.15v-8.73h1v8.73zM535 465.15v-8.73h1v8.73zM536 523.54v-2.99h1v2.99zM537 517.05v-2.99h1v2.99zM538 507.32v-8.73h1v8.73zM539 504.08v-5.49h1v5.49zM540 504.08v-5.89h1v5.89zM541 517.05v-2.99h1v2.99zM542 504.08v-5.89h1v5.89zM543 504.08v-5.49h1v5.49zM544 530.03v-2.99h1v2.99zM545 517.05v-2.64h1v2.64zM546 530.03v-6.24h1v6.24zM548 530.03v-2.99h1v2.99zM549 520.29v-6.24h1v6.24zM551 530.03v-9.48h1v9.48zM552 526.78v-2.99h1v2.99zM553 533.27v-2.64h1v2.64zM555 533.27v-5.89h1v5.89zM556 539.76v-5.49h1v5.49zM557 533.27v-2.64h1v2.64zM558 539.76v-5.49h1v5.49zM559 539.76v-2.64h1v2.64zM564 539.76v-2.24h1v2.24zM565 543.00v-2.64h1v2.64zM567 543.00v-5.49h1v5.49zM571 543.00v-2.24h1v2.24zM573 543.00v-2.24h1v2.24zM575 539.76v-2.24h1v2.24zM576 539.76v-2.24h1v2.24zM579 543.00v-2.24h1v2.24zM595 536.51v-5.49h1v5.49zM596 536.51v-5.89h1v5.89zM597 526.78v-2.64h1v2.64zM598 533.27v-5.89h1v5.89zM606 526.78v-2.64h1v2.64zM608 526.78v-2.99h1v2.99zM610 536.51v-5.89h1v5.89zM612 523.54v-2.99h1v2.99zM613 517.05v-6.24h1v6.24zM614 523.54v-2.64h1v2.64zM615 533.27v-9.13h1v9.13zM617 533.27v-2.99h1v2.99zM618 526.78v-2.24h1v2.24zM619 530.03v-5.89h1v5.89zM620 517.05v-2.99h1v2.99zM621 510.56v-9.48h1v9.48zM622 513.81v-2.64h1v2.64zM623 526.78v-6.24h1v6.24zM624 523.54v-5.89h1v5.89zM625 520.29v-5.89h1v5.89zM626 517.05v-2.64h1v2.64zM627 520.29v-2.64h1v2.64zM628 513.81v-5.89h1v5.89zM629 523.54v-2.64h1v2.64zM631 491.10v-2.99h1v2.99zM632 510.56v-2.99h1v2.99zM633 510.56v-12.72h1v12.72zM634 504.08v-2.99h1v2.99zM635 494.34v-9.48h1v9.48zM636 497.59v-2.64h1v2.64zM638 484.61v-9.53h1v9.53zM639 497.59v-6.29h1v6.29zM640 504.08v-6.09h1v6.09zM642 478.13v-6.09h1v6.09zM643 474.88v-2.84h1v2.84zM644 487.86v-6.29h1v6.29zM645 484.61v-22.51h1v22.51zM646 504.08v-16.02h1v16.02zM648 504.08v-6.29h1v6.29zM649 487.86v-6.29h1v6.29zM650 513.81v-2.64h1v2.64zM651 510.56v-2.99h1v2.99zM652 484.61v-2.64h1v2.64zM653 478.13v-12.72h1v12.72zM654 455.42v-18.86h1v18.86zM655 487.86v-6.09h1v6.09zM656 484.61v-2.84h1v2.84zM657 468.39v-9.48h1v9.48zM658 335.40v-12.17h1v12.17zM659 335.40v-12.17h1v12.17zM660 484.61v-9.48h1v9.48zM661 484.61v-12.72h1v12.72zM662 487.86v-9.13h1v9.13zM663 497.59v-6.24h1v6.24zM664 517.05v-2.99h1v2.99zM666 520.29v-2.99h1v2.99zM667 520.29v-12.37h1v12.37zM668 526.78v-2.64h1v2.64zM669 523.54v-12.37h1v12.37zM670 533.27v-9.13h1v9.13zM671 533.27v-2.64h1v2.64zM672 530.03v-6.24h1v6.24zM674 539.76v-6.24h1v6.24zM675 536.51v-5.89h1v5.89zM676 536.51v-5.49h1v5.49zM678 536.51v-2.64h1v2.64zM681 536.51v-2.24h1v2.24zM683 536.51v-2.24h1v2.24zM685 536.51v-2.64h1v2.64zM686 530.03v-5.49h1v5.49zM689 533.27v-2.64h1v2.64zM691 536.51v-2.24h1v2.24zM692 533.27v-2.24h1v2.24zM693 539.76v-2.64h1v2.64zM694 536.51v-2.24h1v2.24zM695 539.76v-2.24h1v2.24zM698 543.00v-2.24h1v2.24zM701 533.27v-2.24h1v2.24zM703 539.76v-2.64h1v2.64zM706 520.29v-5.89h1v5.89zM707 523.54v-2.24h1v2.24zM708 530.03v-2.64h1v2.64zM709 530.03v-2.64h1v2.64zM710 530.03v-6.24h1v6.24zM711 530.03v-8.73h1v8.73zM712 523.54v-2.24h1v2.24zM714 530.03v-6.24h1v6.24zM715 513.81v-2.99h1v2.99zM718 461.91v-6.24h1v6.24zM719 448.93v-5.89h1v5.89zM720 445.69v-5.89h1v5.89zM721 497.59v-6.24h1v6.24zM722 500.83v-5.89h1v5.89zM723 500.83v-5.89h1v5.89zM725 442.45v-32.24h1v32.24zM726 465.15v-22.31h1v22.31zM727 474.88v-45.21h1v45.21zM728 448.93v-22.31h1v22.31zM729 426.23v-45.01h1v45.01zM730 426.23v-19.26h1v19.26zM731 435.96v-22.51h1v22.51zM732 406.76v-25.75h1v25.75zM733 387.30v-25.55h1v25.55zM734 387.30v-25.55h1v25.55zM735 397.03v-22.31h1v22.31zM736 397.03v-22.31h1v22.31zM737 435.96v-35.28h1v35.28zM738 400.28v-19.26h1v19.26zM740 358.11v-9.33h1v9.33zM741 393.79v-25.55h1v25.55zM742 393.79v-25.55h1v25.55zM745 377.57v-6.29h1v6.29zM746 429.47v-19.26h1v19.26zM747 403.52v-3.04h1v3.04zM748 390.55v-54.94h1v54.94zM749 448.93v-28.99h1v28.99zM750 416.50v-25.75h1v25.75zM751 426.23v-12.77h1v12.77zM752 442.45v-22.51h1v22.51zM753 345.13v-28.79h1v28.79zM754 494.34v-6.29h1v6.29zM755 465.15v-15.82h1v15.82zM756 445.69v-28.99h1v28.99zM757 481.37v-35.28h1v35.28zM758 432.71v-25.75h1v25.75zM759 468.39v-34.88h1v34.88z"/>
<path fill="#3ee9a6" d="M170 539.76v-2.24h1v2.24zM171 539.76v-2.24h1v2.24zM172 539.76v-2.24h1v2.24zM173 539.76v-2.24h1v2.24zM177 539.76v-5.89h1v5.89zM178 539.76v-5.49h1v5.49zM179 539.76v-5.49h1v5.49zM180 539.76v-5.89h1v5.89zM181 539.76v-34.68h1v34.68zM182 539.76v-35.08h1v35.08zM183 539.76v-12.37h1v12.37zM184 539.76v-12.37h1v12.37zM185 539.76v-5.89h1v5.89zM186 539.76v-5.49h1v5.49zM187 539.76v-5.89h1v5.89zM188 539.76v-9.13h1v9.13zM189 539.76v-8.73h1v8.73zM190 539.76v-9.13h1v9.13zM191 533.27v-9.13h1v9.13zM192 533.27v-9.13h1v9.13zM193 539.76v-9.13h1v9.13zM194 539.76v-8.73h1v8.73zM228 543.00v-2.24h1v2.24zM229 543.00v-2.24h1v2.24zM299 543.00v-5.49h1v5.49zM302 539.76v-2.24h1v2.24zM306 539.76v-2.24h1v2.24zM320 533.27v-2.24h1v2.24zM322 536.51v-2.64h1v2.64zM323 523.54v-2.64h1v2.64zM324 523.54v-6.24h1v6.24zM325 536.51v-5.89h1v5.89zM326 530.03v-2.64h1v2.64zM327 530.03v-5.89h1v5.89zM329 536.51v-5.89h1v5.89zM333 530.03v-2.99h1v2.99zM336 523.54v-6.24h1v6.24zM337 530.03v-5.89h1v5.89zM339 530.03v-2.64h1v2.64zM341 526.78v-2.64h1v2.64zM342 530.03v-2.24h1v2.24zM343 530.03v-2.24h1v2.24zM347 539.76v-2.64h1v2.64zM348 539.76v-2.24h1v2.24zM350 510.56v-9.13h1v9.13zM351 520.29v-8.73h1v8.73zM353 530.03v-2.24h1v2.24zM354 526.78v-2.64h1v2.64zM355 523.54v-2.64h1v2.64zM357 539.76v-2.24h1v2.24zM361 539.76v-5.49h1v5.49zM365 539.76v-2.24h1v2.24zM368 539.76v-2.24h1v2.24zM372 533.27v-2.24h1v2.24zM378 520.29v-2.24h1v2.24zM379 520.29v-2.24h1v2.24zM400 533.27v-2.24h1v2.24zM401 533.27v-2.64h1v2.64zM402 533.27v-5.49h1v5.49zM403 533.27v-5.49h1v5.49zM404 533.27v-5.49h1v5.49zM418 536.51v-2.24h1v2.24zM419 536.51v-2.24h1v2.24zM420 536.51v-2.24h1v2.24zM428 539.76v-2.24h1v2.24zM429 539.76v-2.24h1v2.24zM430 539.76v-2.24h1v2.24zM449 539.76v-5.49h1v5.49zM450 539.76v-5.49h1v5.49zM451 539.76v-5.49h1v5.49zM453 539.76v-2.24h1v2.24zM454 539.76v-2.24h1v2.24zM455 539.76v-2.24h1v2.24zM456 539.76v-2.24h1v2.24zM457 536.51v-2.24h1v2.24zM458 536.51v-2.24h1v2.24zM459 536.51v-2.24h1v2.24zM468 539.76v-5.49h1v5.49zM471 539.76v-2.64h1v2.64zM474 539.76v-2.24h1v2.24zM475 539.76v-2.24h1v2.24zM476 539.76v-2.24h1v2.24zM478 539.76v-2.64h1v2.64zM482 530.03v-5.49h1v5.49zM483 530.03v-5.49h1v5.49zM484 530.03v-5.89h1v5.89zM486 533.27v-2.99h1v2.99zM490 530.03v-6.24h1v6.24zM491 533.27v-2.24h1v2.24zM493 530.03v-9.13h1v9.13zM494 530.03v-2.99h1v2.99zM495 517.05v-2.64h1v2.64zM496 526.78v-8.73h1v8.73zM497 526.78v-2.64h1v2.64zM498 510.56v-8.73h1v8.73zM499 520.29v-9.13h1v9.13zM500 487.86v-12.37h1v12.37zM501 520.29v-6.24h1v6.24zM502 517.05v-9.13h1v9.13zM503 523.54v-2.64h1v2.64zM505 520.29v-2.64h1v2.64zM506 523.54v-2.64h1v2.64zM507 510.56v-2.64h1v2.64zM508 507.32v-9.48h1v9.48zM509 513.81v-5.49h1v5.49zM510 523.54v-15.22h1v15.22zM511 523.54v-9.13h1v9.13zM512 513.81v-5.89h1v5.89zM513 510.56v-6.24h1v6.24zM514 523.54v-5.49h1v5.49zM515 517.05v-5.49h1v5.49zM516 520.29v-8.73h1v8.73zM517 530.03v-6.24h1v6.24zM518 517.05v-9.13h1v9.13zM519 523.54v-2.24h1v2.24zM520 530.03v-2.99h1v2.99zM521 523.54v-6.24h1v6.24zM522 530.03v-9.13h1v9.13zM523 536.51v-2.99h1v2.99zM528 533.27v-2.24h1v2.24zM530 526.78v-2.64h1v2.64zM532 474.88v-2.24h1v2.24zM533 474.88v-2.64h1v2.64zM534 455.42v-5.49h1v5.49zM535 455.42v-5.49h1v5.49zM536 520.29v-2.64h1v2.64zM537 513.81v-5.49h1v5.49zM538 497.59v-9.13h1v9.13zM539 497.59v-11.97h1v11.97zM540 497.59v-11.97h1v11.97zM541 513.81v-8.73h1v8.73zM542 497.59v-24.95h1v24.95zM543 497.59v-24.95h1v24.95zM544 526.78v-9.13h1v9.13zM545 513.81v-9.48h1v9.48zM546 523.54v-8.73h1v8.73zM547 530.03v-12.37h1v12.37zM548 526.78v-9.13h1v9.13zM549 513.81v-24.95h1v24.95zM550 526.78v-19.21h1v19.21zM551 520.29v-2.99h1v2.99zM552 523.54v-15.62h1v15.62zM553 530.03v-12.37h1v12.37zM554 536.51v-5.89h1v5.89zM555 526.78v-5.49h1v5.49zM556 533.27v-5.49h1v5.49zM557 530.03v-2.64h1v2.64zM558 533.27v-2.24h1v2.24zM559 536.51v-2.64h1v2.64zM560 536.51v-5.49h1v5.49zM561 536.51v-5.49h1v5.49zM562 536.51v-5.89h1v5.89zM563 536.51v-9.13h1v9.13zM564 536.51v-2.64h1v2.64zM566 543.00v-5.49h1v5.49zM569 539.76v-2.24h1v2.24zM574 536.51v-2.64h1v2.64zM576 536.51v-2.64h1v2.64zM577 543.00v-2.24h1v2.24zM595 530.03v-2.64h1v2.64zM597 523.54v-5.49h1v5.49zM599 533.27v-2.64h1v2.64zM600 530.03v-2.64h1v2.64zM601 530.03v-2.24h1v2.24zM602 530.03v-2.64h1v2.64zM603 523.54v-2.24h1v2.24zM604 520.29v-12.72h1v12.72zM605 530.03v-5.89h1v5.89zM606 523.54v-2.64h1v2.64zM607 533.27v-2.99h1v2.99zM608 523.54v-2.64h1v2.64zM609 533.27v-2.64h1v2.64zM611 526.78v-2.64h1v2.64zM612 520.29v-5.89h1v5.89zM613 510.56v-5.89h1v5.89zM614 520.29v-6.24h1v6.24zM615 523.54v-2.64h1v2.64zM616 513.81v-5.89h1v5.89zM617 530.03v-5.89h1v5.89zM618 523.54v-2.24h1v2.24zM619 523.54v-2.64h1v2.64zM621 500.83v-12.72h1v12.72zM622 510.56v-6.24h1v6.24zM623 520.29v-2.64h1v2.64zM624 517.05v-5.89h1v5.89zM625 513.81v-2.64h1v2.64zM626 513.81v-5.89h1v5.89zM627 517.05v-8.73h1v8.73zM628 507.32v-6.24h1v6.24zM629 520.29v-9.48h1v9.48zM630 520.29v-15.97h1v15.97zM631 487.86v-15.62h1v15.62zM632 507.32v-15.62h1v15.62zM634 500.83v-12.72h1v12.72zM636 494.34v-19.21h1v19.21zM637 481.37v-2.99h1v2.99zM638 474.88v-15.82h1v15.82zM639 491.10v-5.69h1v5.69zM640 497.59v-12.57h1v12.57zM641 458.66v-22.51h1v22.51zM642 471.64v-12.57h1v12.57zM643 471.64v-22.31h1v22.31zM644 481.37v-6.09h1v6.09zM645 461.91v-3.04h1v3.04zM647 474.88v-15.97h1v15.97zM648 497.59v-19.26h1v19.26zM649 481.37v-15.82h1v15.82zM650 510.56v-6.24h1v6.24zM651 507.32v-6.24h1v6.24zM652 481.37v-9.48h1v9.48zM654 435.96v-15.97h1v15.97zM655 481.37v-2.84h1v2.84zM656 481.37v-2.84h1v2.84zM658 322.43v-15.42h1v15.42zM659 322.43v-15.42h1v15.42zM660 474.88v-22.11h1v22.11zM661 471.64v-9.48h1v9.48zM663 491.10v-5.89h1v5.89zM664 513.81v-9.48h1v9.48zM665 500.83v-9.48h1v9.48zM666 517.05v-6.24h1v6.24zM668 523.54v-2.64h1v2.64zM672 523.54v-5.89h1v5.89zM673 520.29v-5.89h1v5.89zM675 530.03v-2.64h1v2.64zM677 536.51v-5.89h1v5.89zM680 536.51v-2.24h1v2.24zM687 530.03v-5.89h1v5.89zM688 530.03v-2.99h1v2.99zM689 530.03v-5.89h1v5.89zM693 536.51v-2.24h1v2.24zM699 543.00v-2.24h1v2.24zM704 526.78v-2.24h1v2.24zM705 526.78v-2.64h1v2.64zM707 520.29v-2.64h1v2.64zM708 526.78v-2.64h1v2.64zM709 526.78v-5.49h1v5.49zM710 523.54v-2.24h1v2.24zM711 520.29v-2.64h1v2.64zM712 520.29v-2.24h1v2.24zM713 520.29v-2.64h1v2.64zM714 523.54v-9.13h1v9.13zM715 510.56v-15.97h1v15.97zM716 458.66v-8.73h1v8.73zM717 458.66v-9.13h1v9.13zM718 455.42v-9.13h1v9.13zM719 442.45v-5.49h1v5.49zM720 439.20v-2.24h1v2.24zM721 491.10v-5.89h1v5.89zM722 494.34v-9.13h1v9.13zM723 494.34v-6.24h1v6.24zM725 410.01v-2.44h1v2.44zM726 442.45v-35.28h1v35.28zM727 429.47v-25.75h1v25.75zM728 426.23v-32.24h1v32.24zM730 406.76v-25.55h1v25.55zM731 413.25v-57.99h1v57.99zM732 380.82v-25.55h1v25.55zM733 361.35v-128.95h1v128.95zM734 361.35v-129.35h1v129.35zM735 374.33v-90.42h1v90.42zM736 374.33v-90.02h1v90.02zM737 400.28v-57.99h1v57.99zM738 380.82v-38.52h1v38.52zM739 358.11v-9.33h1v9.33zM741 367.84v-115.97h1v115.97zM742 367.84v-115.97h1v115.97zM745 371.08v-6.09h1v6.09zM746 410.01v-35.48h1v35.48zM747 400.28v-32.24h1v32.24zM748 335.40v-15.82h1v15.82zM749 419.74v-48.46h1v48.46zM750 390.55v-90.02h1v90.02zM751 413.25v-113.13h1v113.13zM752 419.74v-32.24h1v32.24zM753 315.94v-45.01h1v45.01zM754 487.86v-38.52h1v38.52zM755 448.93v-41.97h1v41.97zM756 416.50v-22.51h1v22.51zM757 445.69v-129.35h1v129.35zM758 406.76v-90.02h1v90.02zM759 432.71v-115.97h1v115.97z"/>
<path fill="#38c8dc" d="M126 543.00v-2.24h1v2.24zM127 543.00v-2.24h1v2.24zM130 543.00v-2.24h1v2.24zM133 543.00v-2.24h1v2.24zM134 543.00v-2.24h1v2.24zM135 543.00v-2.24h1v2.24zM175 539.76v-11.97h1v11.97zM176 539.76v-11.97h1v11.97zM177 533.27v-5.49h1v5.49zM178 533.27v-5.49h1v5.49zM179 533.27v-5.49h1v5.49zM180 533.27v-5.89h1v5.89zM181 504.08v-2.24h1v2.24zM182 504.08v-2.64h1v2.64zM183 526.78v-34.68h1v34.68zM184 526.78v-34.68h1v34.68zM185 533.27v-12.37h1v12.37zM186 533.27v-12.37h1v12.37zM187 533.27v-9.48h1v9.48zM188 530.03v-9.13h1v9.13zM189 530.03v-8.73h1v8.73zM190 530.03v-9.13h1v9.13zM191 523.54v-8.73h1v8.73zM192 523.54v-9.13h1v9.13zM193 530.03v-9.13h1v9.13zM194 530.03v-8.73h1v8.73zM195 539.76v-9.13h1v9.13zM196 539.76v-5.89h1v5.89zM197 539.76v-5.49h1v5.49zM198 539.76v-2.64h1v2.64zM199 539.76v-2.64h1v2.64zM200 539.76v-5.49h1v5.49zM201 539.76v-5.49h1v5.49zM202 543.00v-2.24h1v2.24zM203 539.76v-2.24h1v2.24zM204 539.76v-2.24h1v2.24zM205 539.76v-2.24h1v2.24zM206 543.00v-2.24h1v2.24zM207 543.00v-2.24h1v2.24zM208 539.76v-2.24h1v2.24zM209 539.76v-2.24h1v2.24zM210 543.00v-2.24h1v2.24zM211 543.00v-2.24h1v2.24zM212 543.00v-2.24h1v2.24zM213 543.00v-2.24h1v2.24zM214 543.00v-2.24h1v2.24zM215 543.00v-2.24h1v2.24zM218 543.00v-2.24h1v2.24zM219 543.00v-2.24h1v2.24zM222 543.00v-2.24h1v2.24zM223 543.00v-2.24h1v2.24zM224 543.00v-2.24h1v2.24zM228 539.76v-2.24h1v2.24zM229 539.76v-2.24h1v2.24zM230 543.00v-2.24h1v2.24zM231 543.00v-2.24h1v2.24zM232 543.00v-2.24h1v2.24zM297 539.76v-2.24h1v2.24zM298 539.76v-2.24h1v2.24zM306 536.51v-2.24h1v2.24zM313 536.51v-2.24h1v2.24zM320 530.03v-2.24h1v2.24zM321 533.27v-2.24h1v2.24zM322 533.27v-2.64h1v2.64zM323 520.29v-12.37h1v12.37zM324 517.05v-2.64h1v2.64zM325 530.03v-2.64h1v2.64zM326 526.78v-9.13h1v9.13zM328 526.78v-2.64h1v2.64zM329 530.03v-2.64h1v2.64zM330 530.03v-6.24h1v6.24zM331 533.27v-6.24h1v6.24zM332 533.27v-9.48h1v9.48zM333 526.78v-5.89h1v5.89zM334 523.54v-5.89h1v5.89zM335 526.78v-6.24h1v6.24zM336 517.05v-6.24h1v6.24zM338 526.78v-9.48h1v9.48zM340 533.27v-9.13h1v9.13zM341 523.54v-2.64h1v2.64zM343 526.78v-2.99h1v2.99zM344 526.78v-6.24h1v6.24zM345 533.27v-2.24h1v2.24zM346 533.27v-2.24h1v2.24zM347 536.51v-5.49h1v5.49zM349 533.27v-2.64h1v2.64zM350 500.83v-5.89h1v5.89zM354 523.54v-2.64h1v2.64zM355 520.29v-2.64h1v2.64zM356 523.54v-12.37h1v12.37zM358 536.51v-5.49h1v5.49zM360 536.51v-2.24h1v2.24zM362 539.76v-2.64h1v2.64zM363 536.51v-2.24h1v2.24zM371 536.51v-2.24h1v2.24zM375 539.76v-2.24h1v2.24zM377 539.76v-2.64h1v2.64zM382 539.76v-2.24h1v2.24zM410 543.00v-2.24h1v2.24zM411 543.00v-2.24h1v2.24zM437 539.76v-2.24h1v2.24zM438 539.76v-2.24h1v2.24zM455 536.51v-2.24h1v2.24zM456 536.51v-2.24h1v2.24zM462 539.76v-2.64h1v2.64zM463 539.76v-2.24h1v2.24zM467 539.76v-5.49h1v5.49zM469 539.76v-2.64h1v2.64zM470 539.76v-2.24h1v2.24zM471 536.51v-2.64h1v2.64zM472 539.76v-5.49h1v5.49zM473 539.76v-2.64h1v2.64zM474 536.51v-2.64h1v2.64zM477 539.76v-2.24h1v2.24zM478 536.51v-2.24h1v2.24zM479 539.76v-5.49h1v5.49zM480 539.76v-5.89h1v5.89zM481 539.76v-2.64h1v2.64zM482 523.54v-5.49h1v5.49zM483 523.54v-5.49h1v5.49zM484 523.54v-5.49h1v5.49zM485 536.51v-2.64h1v2.64zM486 530.03v-2.24h1v2.24zM487 536.51v-9.13h1v9.13zM488 533.27v-2.99h1v2.99zM489 533.27v-6.24h1v6.24zM490 523.54v-5.89h1v5.89zM491 530.03v-2.99h1v2.99zM492 536.51v-5.49h1v5.49zM494 526.78v-9.13h1v9.13zM495 513.81v-18.86h1v18.86zM496 517.05v-12.72h1v12.72zM497 523.54v-5.89h1v5.89zM498 500.83v-5.49h1v5.49zM499 510.56v-9.13h1v9.13zM500 474.88v-8.73h1v8.73zM503 520.29v-9.13h1v9.13zM504 530.03v-2.99h1v2.99zM505 517.05v-9.13h1v9.13zM506 520.29v-6.24h1v6.24zM507 507.32v-5.89h1v5.89zM508 497.59v-12.72h1v12.72zM509 507.32v-12.72h1v12.72zM511 513.81v-2.99h1v2.99zM512 507.32v-11.97h1v11.97zM513 504.08v-9.13h1v9.13zM514 517.05v-5.49h1v5.49zM515 510.56v-5.89h1v5.89zM516 510.56v-5.49h1v5.49zM519 520.29v-2.64h1v2.64zM520 526.78v-5.89h1v5.89zM521 517.05v-5.89h1v5.89zM522 520.29v-8.73h1v8.73zM526 533.27v-2.24h1v2.24zM527 530.03v-2.64h1v2.64zM529 536.51v-2.64h1v2.64zM530 523.54v-2.64h1v2.64zM531 510.56v-2.64h1v2.64zM532 471.64v-5.49h1v5.49zM533 471.64v-5.49h1v5.49zM534 448.93v-2.24h1v2.24zM535 448.93v-2.24h1v2.24zM536 517.05v-9.13h1v9.13zM537 507.32v-8.73h1v8.73zM538 487.86v-2.24h1v2.24zM539 484.61v-12.37h1v12.37zM540 484.61v-11.97h1v11.97zM541 504.08v-9.48h1v9.48zM542 471.64v-2.24h1v2.24zM543 471.64v-2.24h1v2.24zM544 517.05v-6.24h1v6.24zM545 504.08v-5.49h1v5.49zM546 513.81v-15.22h1v15.22zM547 517.05v-2.64h1v2.64zM548 517.05v-9.13h1v9.13zM549 487.86v-2.24h1v2.24zM550 507.32v-9.48h1v9.48zM551 517.05v-15.62h1v15.62zM552 507.32v-5.49h1v5.49zM553 517.05v-8.73h1v8.73zM554 530.03v-6.24h1v6.24zM555 520.29v-5.49h1v5.49zM556 526.78v-5.89h1v5.89zM557 526.78v-9.13h1v9.13zM558 530.03v-5.89h1v5.89zM562 530.03v-2.64h1v2.64zM563 526.78v-2.24h1v2.24zM564 533.27v-8.73h1v8.73zM570 539.76v-2.24h1v2.24zM574 533.27v-2.24h1v2.24zM575 536.51v-5.49h1v5.49zM580 539.76v-2.24h1v2.24zM581 539.76v-2.24h1v2.24zM582 539.76v-2.24h1v2.24zM587 543.00v-5.49h1v5.49zM588 543.00v-5.49h1v5.49zM594 533.27v-2.24h1v2.24zM595 526.78v-2.24h1v2.24zM596 530.03v-5.49h1v5.49zM597 517.05v-5.89h1v5.89zM598 526.78v-8.73h1v8.73zM599 530.03v-6.24h1v6.24zM600 526.78v-5.89h1v5.89zM601 526.78v-5.49h1v5.49zM602 526.78v-5.49h1v5.49zM603 520.29v-6.24h1v6.24zM604 507.32v-5.49h1v5.49zM605 523.54v-6.24h1v6.24zM606 520.29v-6.24h1v6.24zM607 530.03v-8.73h1v8.73zM608 520.29v-6.24h1v6.24zM609 530.03v-12.72h1v12.72zM610 530.03v-9.48h1v9.48zM611 523.54v-9.13h1v9.13zM612 513.81v-9.13h1v9.13zM613 504.08v-15.62h1v15.62zM614 513.81v-19.21h1v19.21zM615 520.29v-12.37h1v12.37zM616 507.32v-15.62h1v15.62zM617 523.54v-2.64h1v2.64zM618 520.29v-5.89h1v5.89zM619 520.29v-18.86h1v18.86zM620 513.81v-19.21h1v19.21zM621 487.86v-12.72h1v12.72zM622 504.08v-12.37h1v12.37zM623 517.05v-18.86h1v18.86zM624 510.56v-12.37h1v12.37zM625 510.56v-9.48h1v9.48zM626 507.32v-9.48h1v9.48zM627 507.32v-2.99h1v2.99zM628 500.83v-18.86h1v18.86zM629 510.56v-15.97h1v15.97zM630 504.08v-19.21h1v19.21zM631 471.64v-15.62h1v15.62zM632 491.10v-5.89h1v5.89zM633 497.59v-12.37h1v12.37zM634 487.86v-12.72h1v12.72zM635 484.61v-18.46h1v18.46zM636 474.88v-9.13h1v9.13zM637 478.13v-22.46h1v22.46zM638 458.66v-19.06h1v19.06zM639 484.61v-25.55h1v25.55zM639 413.25v-31.64h1v31.64zM640 484.61v-12.77h1v12.77zM640 413.25v-32.04h1v32.04zM641 435.96v-25.75h1v25.75zM642 458.66v-28.79h1v28.79zM643 448.93v-12.77h1v12.77zM643 413.25v-47.86h1v47.86zM644 474.88v-25.55h1v25.55zM644 413.25v-47.86h1v47.86zM645 458.66v-19.26h1v19.26zM646 487.86v-32.24h1v32.24zM647 458.66v-19.21h1v19.21zM648 478.13v-2.84h1v2.84zM648 432.71v-18.66h1v18.66zM649 465.15v-6.29h1v6.29zM649 432.71v-19.06h1v19.06zM650 504.08v-9.13h1v9.13zM650 452.18v-12.37h1v12.37zM651 500.83v-5.89h1v5.89zM651 452.18v-12.37h1v12.37zM652 471.64v-12.72h1v12.72zM653 465.15v-28.59h1v28.59zM654 419.74v-12.37h1v12.37zM655 478.13v-16.02h1v16.02zM655 445.69v-22.31h1v22.31zM656 478.13v-9.33h1v9.33zM656 445.69v-21.91h1v21.91zM657 458.66v-22.46h1v22.46zM658 306.21v-25.15h1v25.15zM659 306.21v-25.15h1v25.15zM660 452.18v-12.72h1v12.72zM661 461.91v-6.24h1v6.24zM662 478.13v-18.86h1v18.86zM662 458.66v-9.13h1v9.13zM663 484.61v-5.49h1v5.49zM663 458.66v-8.73h1v8.73zM664 504.08v-5.89h1v5.89zM665 491.10v-9.48h1v9.48zM666 510.56v-6.24h1v6.24zM667 507.32v-12.72h1v12.72zM668 520.29v-12.37h1v12.37zM669 510.56v-9.48h1v9.48zM670 523.54v-11.97h1v11.97zM671 530.03v-2.99h1v2.99zM672 517.05v-5.89h1v5.89zM673 513.81v-5.89h1v5.89zM674 533.27v-5.89h1v5.89zM676 530.03v-5.49h1v5.49zM677 530.03v-2.64h1v2.64zM679 533.27v-2.64h1v2.64zM681 533.27v-2.64h1v2.64zM682 533.27v-5.89h1v5.89zM683 533.27v-2.64h1v2.64zM684 536.51v-2.24h1v2.24zM685 533.27v-5.89h1v5.89zM687 523.54v-9.13h1v9.13zM688 526.78v-6.24h1v6.24zM690 533.27v-5.89h1v5.89zM694 533.27v-2.24h1v2.24zM695 536.51v-2.24h1v2.24zM702 533.27v-2.24h1v2.24zM704 523.54v-2.24h1v2.24zM705 523.54v-2.24h1v2.24zM706 513.81v-5.49h1v5.49zM707 517.05v-8.73h1v8.73zM708 523.54v-2.24h1v2.24zM709 520.29v-5.49h1v5.49zM710 520.29v-5.49h1v5.49zM711 517.05v-2.64h1v2.64zM712 517.05v-9.48h1v9.48zM713 517.05v-15.62h1v15.62zM716 448.93v-2.24h1v2.24zM717 448.93v-2.24h1v2.24zM718 445.69v-2.64h1v2.64zM719 435.96v-15.22h1v15.22zM720 435.96v-15.22h1v15.22zM721 484.61v-15.97h1v15.97zM722 484.61v-18.46h1v18.46zM723 487.86v-15.97h1v15.97zM724 406.76v-54.34h1v54.34zM725 406.76v-54.34h1v54.34zM726 406.76v-54.74h1v54.74zM727 403.52v-28.99h1v28.99zM728 393.79v-51.50h1v51.50zM729 380.82v-44.61h1v44.61zM730 380.82v-45.01h1v45.01zM731 354.87v-60.83h1v60.83zM732 354.87v-61.23h1v61.23zM733 231.61v-51.10h1v51.10zM734 231.61v-51.10h1v51.10zM735 283.50v-83.94h1v83.94zM736 283.50v-83.54h1v83.54zM737 341.89v-57.59h1v57.59zM738 341.89v-57.59h1v57.59zM739 348.38v-51.50h1v51.50zM740 348.38v-51.50h1v51.50zM741 251.07v-54.34h1v54.34zM742 251.07v-54.34h1v54.34zM743 364.60v-38.52h1v38.52zM744 364.60v-38.12h1v38.12zM745 364.60v-38.52h1v38.52zM746 374.33v-28.99h1v28.99zM747 367.84v-28.99h1v28.99zM748 319.18v-15.42h1v15.42zM749 371.08v-38.72h1v38.72zM750 299.72v-38.12h1v38.12zM751 299.72v-38.12h1v38.12zM752 387.30v-74.41h1v74.41zM753 270.53v-5.69h1v5.69zM754 448.93v-32.24h1v32.24zM755 406.76v-32.24h1v32.24zM756 393.79v-45.21h1v45.21zM757 315.94v-38.12h1v38.12zM758 315.94v-38.12h1v38.12zM759 315.94v-38.12h1v38.12z"/>
<path fill="#3872d0" d="M130 539.76v-2.24h1v2.24zM175 526.78v-5.49h1v5.49zM176 526.78v-5.89h1v5.89zM177 526.78v-15.22h1v15.22zM178 526.78v-15.22h1v15.22zM179 526.78v-15.22h1v15.22zM180 526.78v-2.99h1v2.99zM181 500.83v-2.24h1v2.24zM182 500.83v-2.64h1v2.64zM183 491.10v-8.73h1v8.73zM184 491.10v-8.73h1v8.73zM185 520.29v-5.89h1v5.89zM186 520.29v-5.49h1v5.49zM187 523.54v-6.24h1v6.24zM188 520.29v-5.49h1v5.49zM189 520.29v-5.49h1v5.49zM191 513.81v-11.97h1v11.97zM192 513.81v-11.97h1v11.97zM193 520.29v-9.13h1v9.13zM194 520.29v-8.73h1v8.73zM195 530.03v-6.24h1v6.24zM196 533.27v-11.97h1v11.97zM197 533.27v-12.37h1v12.37zM198 536.51v-2.24h1v2.24zM199 536.51v-2.24h1v2.24zM200 533.27v-5.89h1v5.89zM201 533.27v-5.49h1v5.49zM202 539.76v-2.64h1v2.64zM203 536.51v-5.49h1v5.49zM204 536.51v-5.49h1v5.49zM205 536.51v-5.89h1v5.89zM206 539.76v-2.24h1v2.24zM207 539.76v-2.24h1v2.24zM208 536.51v-2.24h1v2.24zM209 536.51v-2.24h1v2.24zM210 539.76v-2.24h1v2.24zM211 539.76v-2.24h1v2.24zM216 543.00v-2.24h1v2.24zM217 543.00v-2.24h1v2.24zM220 543.00v-2.24h1v2.24zM221 543.00v-2.24h1v2.24zM233 543.00v-2.24h1v2.24zM234 543.00v-2.24h1v2.24zM235 543.00v-2.24h1v2.24zM313 533.27v-2.24h1v2.24zM314 539.76v-2.24h1v2.24zM315 539.76v-2.24h1v2.24zM321 530.03v-2.24h1v2.24zM322 530.03v-2.24h1v2.24zM323 507.32v-2.64h1v2.64zM324 513.81v-12.72h1v12.72zM325 526.78v-2.64h1v2.64zM328 523.54v-5.49h1v5.49zM330 523.54v-2.64h1v2.64zM332 523.54v-2.64h1v2.64zM333 520.29v-2.64h1v2.64zM334 517.05v-12.72h1v12.72zM335 520.29v-12.72h1v12.72zM336 510.56v-9.48h1v9.48zM337 523.54v-2.99h1v2.99zM338 517.05v-2.64h1v2.64zM339 526.78v-11.97h1v11.97zM340 523.54v-8.73h1v8.73zM341 520.29v-5.89h1v5.89zM342 526.78v-5.89h1v5.89zM344 520.29v-6.24h1v6.24zM345 530.03v-2.24h1v2.24zM349 530.03v-2.64h1v2.64zM350 494.34v-18.46h1v18.46zM351 510.56v-18.86h1v18.86zM352 533.27v-5.89h1v5.89zM354 520.29v-2.24h1v2.24zM355 517.05v-12.37h1v12.37zM356 510.56v-2.64h1v2.64zM357 536.51v-2.99h1v2.99zM359 533.27v-2.24h1v2.24zM360 533.27v-2.24h1v2.24zM364 536.51v-2.24h1v2.24zM365 536.51v-2.24h1v2.24zM369 536.51v-2.24h1v2.24zM370 536.51v-2.24h1v2.24zM374 536.51v-2.24h1v2.24zM376 539.76v-2.24h1v2.24zM390 543.00v-2.24h1v2.24zM391 543.00v-2.24h1v2.24zM421 539.76v-2.24h1v2.24zM422 539.76v-2.24h1v2.24zM425 539.76v-2.24h1v2.24zM426 539.76v-2.24h1v2.24zM428 536.51v-2.24h1v2.24zM429 536.51v-2.24h1v2.24zM430 536.51v-2.24h1v2.24zM434 539.76v-2.24h1v2.24zM449 533.27v-2.24h1v2.24zM450 533.27v-2.24h1v2.24zM451 533.27v-2.24h1v2.24zM453 536.51v-2.24h1v2.24zM453 533.27v-2.24h1v2.24zM454 536.51v-2.24h1v2.24zM454 533.27v-2.24h1v2.24zM455 533.27v-2.24h1v2.24zM456 533.27v-2.24h1v2.24zM460 539.76v-2.64h1v2.64zM461 539.76v-8.73h1v8.73zM462 536.51v-2.64h1v2.64zM466 539.76v-2.64h1v2.64zM467 533.27v-5.89h1v5.89zM468 533.27v-9.13h1v9.13zM469 536.51v-2.64h1v2.64zM470 536.51v-5.89h1v5.89zM473 536.51v-2.24h1v2.24zM474 533.27v-2.64h1v2.64zM475 536.51v-9.13h1v9.13zM476 536.51v-2.64h1v2.64zM477 536.51v-2.24h1v2.24zM478 533.27v-5.49h1v5.49zM481 536.51v-5.49h1v5.49zM485 533.27v-5.89h1v5.89zM486 526.78v-6.24h1v6.24zM487 526.78v-2.64h1v2.64zM488 530.03v-5.89h1v5.89zM489 526.78v-6.24h1v6.24zM490 517.05v-8.73h1v8.73zM491 526.78v-12.37h1v12.37zM492 530.03v-6.24h1v6.24zM493 520.29v-8.73h1v8.73zM494 517.05v-2.64h1v2.64zM495 494.34v-8.73h1v8.73zM497 517.05v-5.89h1v5.89zM498 494.34v-15.62h1v15.62zM499 500.83v-5.49h1v5.49zM501 513.81v-9.48h1v9.48zM502 507.32v-11.97h1v11.97zM503 510.56v-2.24h1v2.24zM504 526.78v-5.49h1v5.49zM505 507.32v-2.24h1v2.24zM506 513.81v-9.13h1v9.13zM507 500.83v-12.37h1v12.37zM508 484.61v-5.89h1v5.89zM509 494.34v-12.72h1v12.72zM510 507.32v-5.89h1v5.89zM511 510.56v-2.24h1v2.24zM512 494.34v-2.64h1v2.64zM514 510.56v-9.48h1v9.48zM515 504.08v-15.62h1v15.62zM516 504.08v-12.37h1v12.37zM517 523.54v-2.24h1v2.24zM518 507.32v-2.24h1v2.24zM519 517.05v-6.24h1v6.24zM521 510.56v-2.24h1v2.24zM522 510.56v-2.24h1v2.24zM526 530.03v-5.49h1v5.49zM527 526.78v-2.24h1v2.24zM528 530.03v-2.24h1v2.24zM530 520.29v-5.49h1v5.49zM536 507.32v-9.13h1v9.13zM537 497.59v-2.64h1v2.64zM538 484.61v-9.13h1v9.13zM539 471.64v-5.89h1v5.89zM540 471.64v-5.49h1v5.49zM544 510.56v-9.48h1v9.48zM545 497.59v-6.24h1v6.24zM546 497.59v-9.13h1v9.13zM547 513.81v-5.89h1v5.89zM548 507.32v-2.64h1v2.64zM550 497.59v-8.73h1v8.73zM551 500.83v-5.89h1v5.89zM554 523.54v-2.64h1v2.64zM555 513.81v-2.24h1v2.24zM556 520.29v-5.49h1v5.49zM559 533.27v-2.24h1v2.24zM560 530.03v-5.49h1v5.49zM561 530.03v-5.49h1v5.49zM562 526.78v-2.24h1v2.24zM563 523.54v-5.49h1v5.49zM568 539.76v-2.24h1v2.24zM576 533.27v-2.24h1v2.24zM594 530.03v-2.24h1v2.24zM595 523.54v-5.49h1v5.49zM596 523.54v-2.99h1v2.99zM597 510.56v-5.49h1v5.49zM598 517.05v-11.97h1v11.97zM599 523.54v-5.89h1v5.89zM600 520.29v-5.49h1v5.49zM601 520.29v-2.64h1v2.64zM602 520.29v-2.64h1v2.64zM603 513.81v-11.97h1v11.97zM604 500.83v-5.89h1v5.89zM605 517.05v-12.72h1v12.72zM605 491.10v-2.24h1v2.24zM606 513.81v-18.46h1v18.46zM606 491.10v-2.24h1v2.24zM607 520.29v-2.99h1v2.99zM608 513.81v-8.73h1v8.73zM609 517.05v-5.89h1v5.89zM610 520.29v-9.13h1v9.13zM611 513.81v-12.37h1v12.37zM612 504.08v-18.86h1v18.86zM613 487.86v-18.46h1v18.46zM613 455.42v-8.73h1v8.73zM614 494.34v-5.89h1v5.89zM614 455.42v-8.73h1v8.73zM615 507.32v-9.48h1v9.48zM616 491.10v-5.89h1v5.89zM617 520.29v-5.49h1v5.49zM618 513.81v-11.97h1v11.97zM619 500.83v-12.37h1v12.37zM619 465.15v-8.73h1v8.73zM620 494.34v-12.72h1v12.72zM620 465.15v-9.13h1v9.13zM621 474.88v-9.13h1v9.13zM622 491.10v-19.21h1v19.21zM623 497.59v-5.49h1v5.49zM623 465.15v-9.13h1v9.13zM624 497.59v-5.89h1v5.89zM624 465.15v-8.73h1v8.73zM625 500.83v-15.62h1v15.62zM626 497.59v-12.37h1v12.37zM627 504.08v-25.70h1v25.70zM628 481.37v-15.62h1v15.62zM628 452.18v-15.22h1v15.22zM629 494.34v-12.37h1v12.37zM629 452.18v-15.22h1v15.22zM630 484.61v-12.37h1v12.37zM632 484.61v-2.64h1v2.64zM632 455.42v-24.95h1v24.95zM633 484.61v-2.64h1v2.64zM633 455.42v-24.95h1v24.95zM634 474.88v-9.13h1v9.13zM635 465.15v-15.97h1v15.97zM636 465.15v-19.21h1v19.21zM637 455.42v-15.62h1v15.62zM638 439.20v-2.84h1v2.84zM638 419.74v-19.06h1v19.06zM639 458.66v-12.77h1v12.77zM639 380.82v-41.37h1v41.37zM640 471.64v-6.29h1v6.29zM640 380.82v-41.37h1v41.37zM641 410.01v-9.53h1v9.53zM641 397.03v-32.04h1v32.04zM642 429.47v-12.77h1v12.77zM643 435.96v-3.04h1v3.04zM643 364.60v-15.42h1v15.42zM644 364.60v-15.42h1v15.42zM645 439.20v-12.77h1v12.77zM647 439.20v-12.72h1v12.72zM648 474.88v-19.06h1v19.06zM648 413.25v-21.91h1v21.91zM649 458.66v-2.84h1v2.84zM649 413.25v-21.91h1v21.91zM650 494.34v-9.48h1v9.48zM650 439.20v-31.84h1v31.84zM651 494.34v-12.37h1v12.37zM651 439.20v-31.44h1v31.44zM652 458.66v-9.48h1v9.48zM653 435.96v-2.64h1v2.64zM655 461.91v-12.77h1v12.77zM656 468.39v-12.77h1v12.77zM657 435.96v-2.99h1v2.99zM658 280.26v-5.69h1v5.69zM659 280.26v-5.69h1v5.69zM660 439.20v-12.37h1v12.37zM661 455.42v-2.64h1v2.64zM662 448.93v-34.68h1v34.68zM663 478.13v-18.46h1v18.46zM663 448.93v-34.68h1v34.68zM664 497.59v-12.37h1v12.37zM665 481.37v-8.73h1v8.73zM666 504.08v-15.97h1v15.97zM667 494.34v-9.13h1v9.13zM668 507.32v-15.62h1v15.62zM669 500.83v-8.73h1v8.73zM670 510.56v-5.89h1v5.89zM671 526.78v-6.24h1v6.24zM672 510.56v-9.13h1v9.13zM673 507.32v-8.73h1v8.73zM674 526.78v-2.64h1v2.64zM675 526.78v-2.24h1v2.24zM678 533.27v-5.89h1v5.89zM680 533.27v-2.24h1v2.24zM684 533.27v-2.64h1v2.64zM688 520.29v-2.64h1v2.64zM689 523.54v-5.49h1v5.49zM691 533.27v-2.64h1v2.64zM692 530.03v-2.24h1v2.24zM693 533.27v-2.24h1v2.24zM695 533.27v-2.24h1v2.24zM704 520.29v-2.24h1v2.24zM705 520.29v-2.64h1v2.64zM709 513.81v-5.49h1v5.49zM710 513.81v-5.89h1v5.89zM711 513.81v-12.37h1v12.37zM712 507.32v-9.13h1v9.13zM714 513.81v-12.37h1v12.37zM715 494.34v-2.64h1v2.64zM716 445.69v-8.73h1v8.73zM717 445.69v-8.73h1v8.73zM718 442.45v-5.49h1v5.49zM719 419.74v-8.73h1v8.73zM720 419.74v-8.73h1v8.73zM721 468.39v-2.64h1v2.64zM723 471.64v-2.99h1v2.99zM724 351.62v-18.66h1v18.66zM725 351.62v-18.66h1v18.66zM726 351.62v-18.66h1v18.66zM727 374.33v-32.04h1v32.04zM728 341.89v-2.84h1v2.84zM729 335.40v-18.66h1v18.66zM730 335.40v-19.06h1v19.06zM731 293.24v-5.69h1v5.69zM732 293.24v-6.09h1v6.09zM733 179.71v-18.66h1v18.66zM734 179.71v-18.66h1v18.66zM735 199.17v-6.09h1v6.09zM736 199.17v-5.69h1v5.69zM737 283.50v-25.55h1v25.55zM738 283.50v-25.15h1v25.15zM739 296.48v-12.17h1v12.17zM740 296.48v-12.57h1v12.57zM741 195.92v-18.66h1v18.66zM742 195.92v-18.66h1v18.66zM743 325.67v-9.33h1v9.33zM744 325.67v-8.93h1v8.93zM745 325.67v-8.93h1v8.93zM746 345.13v-28.79h1v28.79zM747 338.65v-19.06h1v19.06zM749 332.16v-3.04h1v3.04zM750 260.80v-25.15h1v25.15zM751 260.80v-25.15h1v25.15zM752 312.70v-6.29h1v6.29zM754 416.50v-48.46h1v48.46zM755 374.33v-54.94h1v54.94zM756 348.38v-38.52h1v38.52zM757 277.02v-8.93h1v8.93zM758 277.02v-8.93h1v8.93zM759 277.02v-8.93h1v8.93z"/>
<path fill="#3a30c0" d="M146 543.00v-2.24h1v2.24zM147 543.00v-2.24h1v2.24zM159 543.00v-2.24h1v2.24zM160 543.00v-2.24h1v2.24zM175 520.29v-2.24h1v2.24zM176 520.29v-2.64h1v2.64zM177 510.56v-2.24h1v2.24zM178 510.56v-2.24h1v2.24zM179 510.56v-2.24h1v2.24zM181 497.59v-2.24h1v2.24zM182 497.59v-2.64h1v2.64zM183 481.37v-2.24h1v2.24zM184 481.37v-2.24h1v2.24zM188 513.81v-2.24h1v2.24zM189 513.81v-2.24h1v2.24zM191 500.83v-2.24h1v2.24zM192 500.83v-2.24h1v2.24zM193 510.56v-2.64h1v2.64zM194 510.56v-2.24h1v2.24zM203 530.03v-5.49h1v5.49zM204 530.03v-5.49h1v5.49zM205 530.03v-5.49h1v5.49zM206 536.51v-2.64h1v2.64zM207 536.51v-2.24h1v2.24zM208 533.27v-2.64h1v2.64zM209 533.27v-2.24h1v2.24zM212 539.76v-2.24h1v2.24zM213 539.76v-2.24h1v2.24zM228 536.51v-2.24h1v2.24zM229 536.51v-2.24h1v2.24zM307 536.51v-2.24h1v2.24zM308 536.51v-2.24h1v2.24zM312 533.27v-2.24h1v2.24zM318 539.76v-2.24h1v2.24zM320 526.78v-8.73h1v8.73zM321 526.78v-9.13h1v9.13zM322 526.78v-5.89h1v5.89zM323 504.08v-15.62h1v15.62zM324 500.83v-18.86h1v18.86zM325 523.54v-9.13h1v9.13zM326 517.05v-12.37h1v12.37zM327 523.54v-5.49h1v5.49zM328 517.05v-8.73h1v8.73zM329 526.78v-5.89h1v5.89zM330 520.29v-8.73h1v8.73zM331 526.78v-15.22h1v15.22zM332 520.29v-9.13h1v9.13zM333 517.05v-15.62h1v15.62zM334 504.08v-12.37h1v12.37zM335 507.32v-25.35h1v25.35zM336 500.83v-12.37h1v12.37zM337 520.29v-15.62h1v15.62zM338 513.81v-8.73h1v8.73zM339 513.81v-8.73h1v8.73zM340 513.81v-8.73h1v8.73zM341 513.81v-5.89h1v5.89zM342 520.29v-12.37h1v12.37zM343 523.54v-12.72h1v12.72zM344 513.81v-5.89h1v5.89zM345 526.78v-18.46h1v18.46zM346 530.03v-2.24h1v2.24zM347 530.03v-2.24h1v2.24zM348 536.51v-5.49h1v5.49zM349 526.78v-9.13h1v9.13zM350 474.88v-18.46h1v18.46zM351 491.10v-15.22h1v15.22zM352 526.78v-12.72h1v12.72zM353 526.78v-9.13h1v9.13zM354 517.05v-9.13h1v9.13zM355 504.08v-11.97h1v11.97zM356 507.32v-12.37h1v12.37zM357 533.27v-2.64h1v2.64zM359 530.03v-2.24h1v2.24zM363 533.27v-5.49h1v5.49zM364 533.27v-2.64h1v2.64zM366 536.51v-2.24h1v2.24zM367 536.51v-2.24h1v2.24zM368 536.51v-2.24h1v2.24zM369 533.27v-2.24h1v2.24zM370 533.27v-2.24h1v2.24zM371 533.27v-2.24h1v2.24zM372 530.03v-5.49h1v5.49zM373 536.51v-2.24h1v2.24zM381 536.51v-2.24h1v2.24zM416 539.76v-5.49h1v5.49zM417 539.76v-5.49h1v5.49zM449 530.03v-2.24h1v2.24zM450 530.03v-2.24h1v2.24zM451 530.03v-2.24h1v2.24zM455 530.03v-2.24h1v2.24zM456 530.03v-2.24h1v2.24zM462 533.27v-2.24h1v2.24zM464 539.76v-2.24h1v2.24zM465 539.76v-2.24h1v2.24zM466 536.51v-2.24h1v2.24zM467 526.78v-9.13h1v9.13zM468 523.54v-11.97h1v11.97zM469 533.27v-2.64h1v2.64zM470 530.03v-2.24h1v2.24zM471 533.27v-5.49h1v5.49zM472 533.27v-5.49h1v5.49zM473 533.27v-2.64h1v2.64zM474 530.03v-11.97h1v11.97zM475 526.78v-2.64h1v2.64zM476 533.27v-5.49h1v5.49zM478 526.78v-2.24h1v2.24zM479 533.27v-5.49h1v5.49zM480 533.27v-2.64h1v2.64zM481 530.03v-5.49h1v5.49zM482 517.05v-28.19h1v28.19zM483 517.05v-28.19h1v28.19zM484 517.05v-28.19h1v28.19zM485 526.78v-9.13h1v9.13zM486 520.29v-8.73h1v8.73zM487 523.54v-5.89h1v5.89zM488 523.54v-5.49h1v5.49zM489 520.29v-2.24h1v2.24zM490 507.32v-5.89h1v5.89zM491 513.81v-5.49h1v5.49zM492 523.54v-2.64h1v2.64zM493 510.56v-5.49h1v5.49zM494 513.81v-2.64h1v2.64zM495 484.61v-5.49h1v5.49zM496 504.08v-12.37h1v12.37zM497 510.56v-9.13h1v9.13zM498 478.13v-5.89h1v5.89zM499 494.34v-12.72h1v12.72zM501 504.08v-2.99h1v2.99zM502 494.34v-5.89h1v5.89zM503 507.32v-11.97h1v11.97zM504 520.29v-2.64h1v2.64zM505 504.08v-2.24h1v2.24zM507 487.86v-8.73h1v8.73zM509 481.37v-5.89h1v5.89zM510 500.83v-9.13h1v9.13zM511 507.32v-5.89h1v5.89zM513 494.34v-9.13h1v9.13zM514 500.83v-9.48h1v9.48zM516 491.10v-2.24h1v2.24zM519 510.56v-5.49h1v5.49zM520 520.29v-6.24h1v6.24zM521 507.32v-5.89h1v5.89zM522 507.32v-8.73h1v8.73zM530 513.81v-2.24h1v2.24zM538 474.88v-5.89h1v5.89zM542 468.39v-2.24h1v2.24zM543 468.39v-2.24h1v2.24zM545 491.10v-11.97h1v11.97zM546 487.86v-8.73h1v8.73zM548 504.08v-5.89h1v5.89zM551 494.34v-5.49h1v5.49zM553 507.32v-5.49h1v5.49zM554 520.29v-2.64h1v2.64zM562 523.54v-2.64h1v2.64zM564 523.54v-5.49h1v5.49zM565 539.76v-2.24h1v2.24zM594 526.78v-2.24h1v2.24zM596 520.29v-2.24h1v2.24zM597 504.08v-5.49h1v5.49zM599 517.05v-2.64h1v2.64zM600 513.81v-5.49h1v5.49zM602 517.05v-12.37h1v12.37zM603 500.83v-8.73h1v8.73zM604 494.34v-2.24h1v2.24zM605 504.08v-2.64h1v2.64zM605 487.86v-8.73h1v8.73zM606 487.86v-8.73h1v8.73zM607 517.05v-12.37h1v12.37zM608 504.08v-12.37h1v12.37zM609 510.56v-5.89h1v5.89zM610 510.56v-2.99h1v2.99zM611 500.83v-12.37h1v12.37zM612 484.61v-9.13h1v9.13zM613 468.39v-9.13h1v9.13zM613 445.69v-5.49h1v5.49zM614 487.86v-12.72h1v12.72zM614 445.69v-5.49h1v5.49zM615 497.59v-15.97h1v15.97zM616 484.61v-11.97h1v11.97zM617 513.81v-9.48h1v9.48zM619 487.86v-15.62h1v15.62zM620 481.37v-12.37h1v12.37zM621 465.15v-12.37h1v12.37zM622 471.64v-9.48h1v9.48zM623 491.10v-9.48h1v9.48zM624 491.10v-15.62h1v15.62zM626 484.61v-11.97h1v11.97zM627 478.13v-2.99h1v2.99zM628 435.96v-11.97h1v11.97zM629 481.37v-12.72h1v12.72zM629 435.96v-11.97h1v11.97zM630 471.64v-6.24h1v6.24zM631 455.42v-5.89h1v5.89zM632 481.37v-12.72h1v12.72zM632 429.47v-11.97h1v11.97zM633 481.37v-19.21h1v19.21zM633 429.47v-11.97h1v11.97zM634 465.15v-9.13h1v9.13zM636 445.69v-8.73h1v8.73zM638 435.96v-15.82h1v15.82zM639 445.69v-19.26h1v19.26zM639 338.65v-41.37h1v41.37zM640 465.15v-16.02h1v16.02zM640 338.65v-41.37h1v41.37zM641 400.28v-2.84h1v2.84zM641 364.60v-12.57h1v12.57zM643 432.71v-2.44h1v2.44zM643 348.38v-31.64h1v31.64zM644 448.93v-19.06h1v19.06zM644 348.38v-31.64h1v31.64zM645 426.23v-32.04h1v32.04zM646 455.42v-35.48h1v35.48zM647 426.23v-9.48h1v9.48zM648 455.42v-3.04h1v3.04zM648 390.55v-8.93h1v8.93zM649 455.42v-9.33h1v9.33zM649 390.55v-8.93h1v8.93zM650 484.61v-18.86h1v18.86zM651 481.37v-6.24h1v6.24zM652 448.93v-15.62h1v15.62zM653 432.71v-9.48h1v9.48zM655 448.93v-2.84h1v2.84zM655 422.98v-38.12h1v38.12zM656 422.98v-38.12h1v38.12zM657 432.71v-9.13h1v9.13zM658 273.77v-15.42h1v15.42zM659 273.77v-15.42h1v15.42zM660 426.23v-2.64h1v2.64zM661 452.18v-19.21h1v19.21zM664 484.61v-5.89h1v5.89zM670 504.08v-5.89h1v5.89zM671 520.29v-2.64h1v2.64zM674 523.54v-2.24h1v2.24zM675 523.54v-2.24h1v2.24zM676 523.54v-2.24h1v2.24zM678 526.78v-2.24h1v2.24zM679 530.03v-5.49h1v5.49zM681 530.03v-5.49h1v5.49zM685 526.78v-2.24h1v2.24zM686 523.54v-2.64h1v2.64zM687 513.81v-2.24h1v2.24zM688 517.05v-5.49h1v5.49zM691 530.03v-2.24h1v2.24zM693 530.03v-2.24h1v2.24zM709 507.32v-2.64h1v2.64zM710 507.32v-5.49h1v5.49zM712 497.59v-2.24h1v2.24zM713 500.83v-5.89h1v5.89zM714 500.83v-8.73h1v8.73zM721 465.15v-2.64h1v2.64zM722 465.15v-2.24h1v2.24zM727 341.89v-2.84h1v2.84zM733 160.24v-2.44h1v2.44zM734 160.24v-2.44h1v2.44zM735 192.68v-2.84h1v2.84zM736 192.68v-2.44h1v2.44zM737 257.55v-12.57h1v12.57zM738 257.55v-12.17h1v12.17zM741 176.46v-12.17h1v12.17zM742 176.46v-12.17h1v12.17zM743 315.94v-9.33h1v9.33zM744 315.94v-8.93h1v8.93zM745 315.94v-8.93h1v8.93zM746 315.94v-2.84h1v2.84zM747 319.18v-6.09h1v6.09zM749 328.92v-19.26h1v19.26zM750 234.85v-8.93h1v8.93zM751 234.85v-8.93h1v8.93zM752 306.21v-38.72h1v38.72zM754 367.84v-32.24h1v32.24zM755 319.18v-8.93h1v8.93zM757 267.29v-15.42h1v15.42zM758 267.29v-15.42h1v15.42zM759 267.29v-15.42h1v15.42z"/>
<path fill="#6e2caa" d="M185 513.81v-5.89h1v5.89zM186 513.81v-5.49h1v5.49zM193 507.32v-5.49h1v5.49zM194 507.32v-5.49h1v5.49zM196 520.29v-5.49h1v5.49zM197 520.29v-5.89h1v5.89zM198 533.27v-24.95h1v24.95zM199 533.27v-24.95h1v24.95zM203 523.54v-5.49h1v5.49zM204 523.54v-5.49h1v5.49zM205 523.54v-5.49h1v5.49zM206 533.27v-5.89h1v5.89zM207 533.27v-5.89h1v5.89zM208 530.03v-5.49h1v5.49zM209 530.03v-5.49h1v5.49zM210 536.51v-2.24h1v2.24zM211 536.51v-2.24h1v2.24zM212 536.51v-2.24h1v2.24zM213 536.51v-2.24h1v2.24zM214 539.76v-2.24h1v2.24zM215 539.76v-2.24h1v2.24zM216 539.76v-2.24h1v2.24zM217 539.76v-2.24h1v2.24zM218 539.76v-2.24h1v2.24zM219 539.76v-2.24h1v2.24zM220 539.76v-2.24h1v2.24zM221 539.76v-2.24h1v2.24zM222 539.76v-2.24h1v2.24zM223 539.76v-2.24h1v2.24zM224 539.76v-2.24h1v2.24zM239 543.00v-2.24h1v2.24zM240 543.00v-2.24h1v2.24zM241 543.00v-2.24h1v2.24zM301 536.51v-2.24h1v2.24zM302 536.51v-2.24h1v2.24zM320 517.05v-2.24h1v2.24zM321 517.05v-2.64h1v2.64zM322 520.29v-9.13h1v9.13zM323 487.86v-12.37h1v12.37zM325 513.81v-6.24h1v6.24zM326 504.08v-2.64h1v2.64zM329 520.29v-2.64h1v2.64zM330 510.56v-2.64h1v2.64zM331 510.56v-8.73h1v8.73zM332 510.56v-2.99h1v2.99zM333 500.83v-8.73h1v8.73zM334 491.10v-2.99h1v2.99zM336 487.86v-12.37h1v12.37zM337 504.08v-12.37h1v12.37zM339 504.08v-18.46h1v18.46zM340 504.08v-9.13h1v9.13zM342 507.32v-2.24h1v2.24zM343 510.56v-5.89h1v5.89zM344 507.32v-5.49h1v5.49zM345 507.32v-5.49h1v5.49zM346 526.78v-5.89h1v5.89zM347 526.78v-2.64h1v2.64zM349 517.05v-2.64h1v2.64zM351 474.88v-12.37h1v12.37zM353 517.05v-5.89h1v5.89zM354 507.32v-2.24h1v2.24zM357 530.03v-2.64h1v2.64zM358 530.03v-2.24h1v2.24zM360 530.03v-2.24h1v2.24zM362 536.51v-2.24h1v2.24zM364 530.03v-2.24h1v2.24zM369 530.03v-2.24h1v2.24zM370 530.03v-2.64h1v2.64zM371 530.03v-5.49h1v5.49zM382 536.51v-2.24h1v2.24zM394 539.76v-2.24h1v2.24zM395 539.76v-2.24h1v2.24zM410 539.76v-2.24h1v2.24zM411 539.76v-2.24h1v2.24zM460 536.51v-2.64h1v2.64zM461 530.03v-2.24h1v2.24zM462 530.03v-2.24h1v2.24zM463 536.51v-2.24h1v2.24zM464 536.51v-2.24h1v2.24zM465 536.51v-2.24h1v2.24zM467 517.05v-5.49h1v5.49zM468 510.56v-2.24h1v2.24zM470 526.78v-5.49h1v5.49zM471 526.78v-5.49h1v5.49zM473 530.03v-2.64h1v2.64zM474 517.05v-2.24h1v2.24zM475 523.54v-5.49h1v5.49zM477 533.27v-5.49h1v5.49zM479 526.78v-2.24h1v2.24zM481 523.54v-5.49h1v5.49zM482 487.86v-2.24h1v2.24zM483 487.86v-2.24h1v2.24zM484 487.86v-2.24h1v2.24zM485 517.05v-5.89h1v5.89zM486 510.56v-2.24h1v2.24zM488 517.05v-2.64h1v2.64zM489 517.05v-5.89h1v5.89zM490 500.83v-2.24h1v2.24zM491 507.32v-8.73h1v8.73zM492 520.29v-2.99h1v2.99zM494 510.56v-5.89h1v5.89zM496 491.10v-5.49h1v5.49zM497 500.83v-5.89h1v5.89zM498 471.64v-5.49h1v5.49zM499 481.37v-15.22h1v15.22zM501 500.83v-2.99h1v2.99zM502 487.86v-5.49h1v5.49zM503 494.34v-9.13h1v9.13zM506 504.08v-2.24h1v2.24zM510 491.10v-12.37h1v12.37zM511 500.83v-5.89h1v5.89zM515 487.86v-8.73h1v8.73zM516 487.86v-8.73h1v8.73zM520 513.81v-5.89h1v5.89zM521 500.83v-2.24h1v2.24zM530 510.56v-2.24h1v2.24zM532 465.15v-2.24h1v2.24zM533 465.15v-2.64h1v2.64zM538 468.39v-5.49h1v5.49zM539 465.15v-2.24h1v2.24zM540 465.15v-2.24h1v2.24zM541 494.34v-9.13h1v9.13zM542 465.15v-11.97h1v11.97zM543 465.15v-11.97h1v11.97zM544 500.83v-2.24h1v2.24zM547 507.32v-2.64h1v2.64zM550 487.86v-2.24h1v2.24zM552 500.83v-2.64h1v2.64zM556 513.81v-2.24h1v2.24zM595 517.05v-2.24h1v2.24zM598 504.08v-5.49h1v5.49zM599 513.81v-5.89h1v5.89zM601 517.05v-2.64h1v2.64zM605 500.83v-5.49h1v5.49zM605 478.13v-2.24h1v2.24zM606 494.34v-2.24h1v2.24zM606 478.13v-2.24h1v2.24zM607 504.08v-2.99h1v2.99zM609 504.08v-5.89h1v5.89zM610 507.32v-5.89h1v5.89zM611 487.86v-2.24h1v2.24zM613 439.20v-5.49h1v5.49zM614 474.88v-5.49h1v5.49zM614 439.20v-5.49h1v5.49zM615 481.37v-9.13h1v9.13zM619 471.64v-2.24h1v2.24zM619 455.42v-8.73h1v8.73zM620 468.39v-2.24h1v2.24zM620 455.42v-8.73h1v8.73zM622 461.91v-2.99h1v2.99zM623 481.37v-12.72h1v12.72zM623 455.42v-11.97h1v11.97zM624 455.42v-11.97h1v11.97zM627 474.88v-2.64h1v2.64zM628 465.15v-11.97h1v11.97zM629 468.39v-6.24h1v6.24zM630 465.15v-15.62h1v15.62zM633 461.91v-2.99h1v2.99zM634 455.42v-15.97h1v15.97zM635 448.93v-11.97h1v11.97zM638 400.28v-6.09h1v6.09zM639 426.23v-12.57h1v12.57zM639 296.48v-5.69h1v5.69zM640 448.93v-28.99h1v28.99zM640 296.48v-5.69h1v5.69zM642 416.50v-19.06h1v19.06zM643 429.47v-9.53h1v9.53zM643 315.94v-2.44h1v2.44zM644 315.94v-2.44h1v2.44zM648 452.18v-6.09h1v6.09zM648 380.82v-25.15h1v25.15zM649 445.69v-12.57h1v12.57zM649 380.82v-25.15h1v25.15zM650 406.76v-2.64h1v2.64zM651 474.88v-6.24h1v6.24zM651 406.76v-2.24h1v2.24zM652 432.71v-2.99h1v2.99zM653 422.98v-5.89h1v5.89zM655 384.06v-5.69h1v5.69zM656 455.42v-9.33h1v9.33zM656 384.06v-5.69h1v5.69zM657 422.98v-2.99h1v2.99zM658 257.55v-15.42h1v15.42zM659 257.55v-15.42h1v15.42zM661 432.71v-5.89h1v5.89zM662 413.25v-2.24h1v2.24zM663 413.25v-2.24h1v2.24zM666 487.86v-15.22h1v15.22zM668 491.10v-5.49h1v5.49zM670 497.59v-5.49h1v5.49zM671 517.05v-2.99h1v2.99zM672 500.83v-2.24h1v2.24zM674 520.29v-2.64h1v2.64zM675 520.29v-2.24h1v2.24zM682 526.78v-2.24h1v2.24zM684 530.03v-2.24h1v2.24zM685 523.54v-2.24h1v2.24zM689 517.05v-2.64h1v2.64zM692 526.78v-2.24h1v2.24zM693 526.78v-2.24h1v2.24zM724 332.16v-2.44h1v2.44zM725 332.16v-2.44h1v2.44zM726 332.16v-2.44h1v2.44zM729 315.94v-2.44h1v2.44zM730 315.94v-2.84h1v2.84zM735 189.44v-2.84h1v2.84zM736 189.44v-2.44h1v2.44zM739 283.50v-6.09h1v6.09zM740 283.50v-6.09h1v6.09zM741 163.49v-2.44h1v2.44zM742 163.49v-2.44h1v2.44zM743 306.21v-6.09h1v6.09zM744 306.21v-5.69h1v5.69zM745 306.21v-5.69h1v5.69zM749 309.45v-6.09h1v6.09zM752 267.29v-2.84h1v2.84zM754 335.40v-19.06h1v19.06z"/>
<path fill="#962890" d="M185 507.32v-2.64h1v2.64zM186 507.32v-2.24h1v2.24zM198 507.32v-18.46h1v18.46zM199 507.32v-18.46h1v18.46zM203 517.05v-2.24h1v2.24zM204 517.05v-2.24h1v2.24zM205 517.05v-2.24h1v2.24zM210 533.27v-2.24h1v2.24zM211 533.27v-2.24h1v2.24zM214 536.51v-2.24h1v2.24zM215 536.51v-2.24h1v2.24zM216 536.51v-2.24h1v2.24zM217 536.51v-2.24h1v2.24zM220 536.51v-2.24h1v2.24zM221 536.51v-2.24h1v2.24zM230 539.76v-2.24h1v2.24zM231 539.76v-2.24h1v2.24zM232 539.76v-2.24h1v2.24zM321 513.81v-2.24h1v2.24zM323 474.88v-2.24h1v2.24zM324 481.37v-8.73h1v8.73zM325 507.32v-9.13h1v9.13zM326 500.83v-2.24h1v2.24zM328 507.32v-2.24h1v2.24zM330 507.32v-5.49h1v5.49zM332 507.32v-2.99h1v2.99zM333 491.10v-8.73h1v8.73zM334 487.86v-5.49h1v5.49zM335 481.37v-15.22h1v15.22zM336 474.88v-8.73h1v8.73zM337 491.10v-2.24h1v2.24zM338 504.08v-6.24h1v6.24zM340 494.34v-8.73h1v8.73zM341 507.32v-2.24h1v2.24zM347 523.54v-2.24h1v2.24zM351 461.91v-5.49h1v5.49zM352 513.81v-2.24h1v2.24zM356 494.34v-2.24h1v2.24zM357 526.78v-2.24h1v2.24zM358 526.78v-2.24h1v2.24zM418 533.27v-2.24h1v2.24zM419 533.27v-2.24h1v2.24zM420 533.27v-2.24h1v2.24zM455 526.78v-2.24h1v2.24zM456 526.78v-2.24h1v2.24zM467 510.56v-2.24h1v2.24zM469 530.03v-2.64h1v2.64zM475 517.05v-2.24h1v2.24zM476 526.78v-2.24h1v2.24zM485 510.56v-2.64h1v2.64zM487 517.05v-2.64h1v2.64zM496 484.61v-5.49h1v5.49zM498 465.15v-2.24h1v2.24zM499 465.15v-2.24h1v2.24zM503 484.61v-2.24h1v2.24zM509 474.88v-2.24h1v2.24zM510 478.13v-5.49h1v5.49zM513 484.61v-2.24h1v2.24zM514 491.10v-9.13h1v9.13zM520 507.32v-2.64h1v2.64zM639 289.99v-2.44h1v2.44zM640 289.99v-2.44h1v2.44zM641 351.62v-9.33h1v9.33zM739 277.02v-6.09h1v6.09zM740 277.02v-6.09h1v6.09z"/>
<path fill="#7c2050" d="M529 533.27v-2.64h1v2.64zM536 497.59v-2.64h1v2.64zM542 452.18v-2.24h1v2.24zM543 452.18v-2.24h1v2.24zM544 497.59v-9.48h1v9.48zM545 478.13v-2.24h1v2.24zM546 478.13v-2.24h1v2.24zM547 504.08v-5.49h1v5.49zM553 500.83v-2.24h1v2.24zM559 530.03v-2.99h1v2.99zM596 517.05v-2.64h1v2.64zM605 494.34v-2.24h1v2.24zM607 500.83v-5.89h1v5.89zM608 491.10v-2.24h1v2.24zM609 497.59v-8.73h1v8.73zM610 500.83v-2.64h1v2.64zM611 484.61v-8.73h1v8.73zM613 458.66v-2.24h1v2.24zM613 432.71v-2.24h1v2.24zM614 468.39v-11.97h1v11.97zM614 432.71v-2.24h1v2.24zM617 504.08v-2.64h1v2.64zM619 468.39v-2.24h1v2.24zM619 445.69v-8.73h1v8.73zM620 445.69v-8.73h1v8.73zM622 458.66v-5.89h1v5.89zM623 468.39v-2.64h1v2.64zM623 442.45v-18.46h1v18.46zM624 474.88v-8.73h1v8.73zM624 442.45v-18.46h1v18.46zM628 422.98v-5.49h1v5.49zM629 461.91v-9.13h1v9.13zM629 422.98v-5.49h1v5.49zM630 448.93v-2.64h1v2.64zM631 448.93v-2.64h1v2.64zM632 468.39v-11.97h1v11.97zM632 416.50v-2.24h1v2.24zM633 458.66v-2.24h1v2.24zM633 416.50v-2.24h1v2.24zM634 439.20v-2.64h1v2.64zM635 435.96v-5.49h1v5.49zM636 435.96v-5.49h1v5.49zM638 393.79v-2.84h1v2.84zM639 286.75v-2.44h1v2.44zM640 419.74v-6.09h1v6.09zM640 286.75v-2.44h1v2.44zM641 341.89v-2.44h1v2.44zM643 419.74v-6.09h1v6.09zM644 429.47v-15.82h1v15.82zM646 419.74v-25.15h1v25.15zM648 445.69v-12.57h1v12.57zM648 354.87v-2.44h1v2.44zM649 354.87v-2.44h1v2.44zM650 465.15v-12.37h1v12.37zM651 468.39v-15.62h1v15.62zM652 429.47v-12.37h1v12.37zM653 416.50v-8.73h1v8.73zM655 377.57v-15.42h1v15.42zM656 377.57v-15.42h1v15.42zM657 419.74v-6.24h1v6.24zM658 241.34v-25.15h1v25.15zM659 241.34v-25.15h1v25.15zM661 426.23v-2.64h1v2.64zM665 471.64v-5.49h1v5.49zM666 471.64v-5.49h1v5.49zM743 299.72v-12.57h1v12.57zM744 299.72v-12.17h1v12.17zM745 299.72v-12.17h1v12.17z"/>
<path fill="#641c20" d="M248 543.00v-2.24h1v2.24zM249 543.00v-2.24h1v2.24z"/>
<path fill="#fdbb2d" d="M214 533.27v-2.24h1v2.24zM215 533.27v-2.24h1v2.24zM605 474.88v-2.24h1v2.24zM606 474.88v-2.24h1v2.24zM743 286.75v-9.33h1v9.33zM744 286.75v-8.93h1v8.93zM745 286.75v-8.93h1v8.93z"/>
</g>
</svg></body></html>
